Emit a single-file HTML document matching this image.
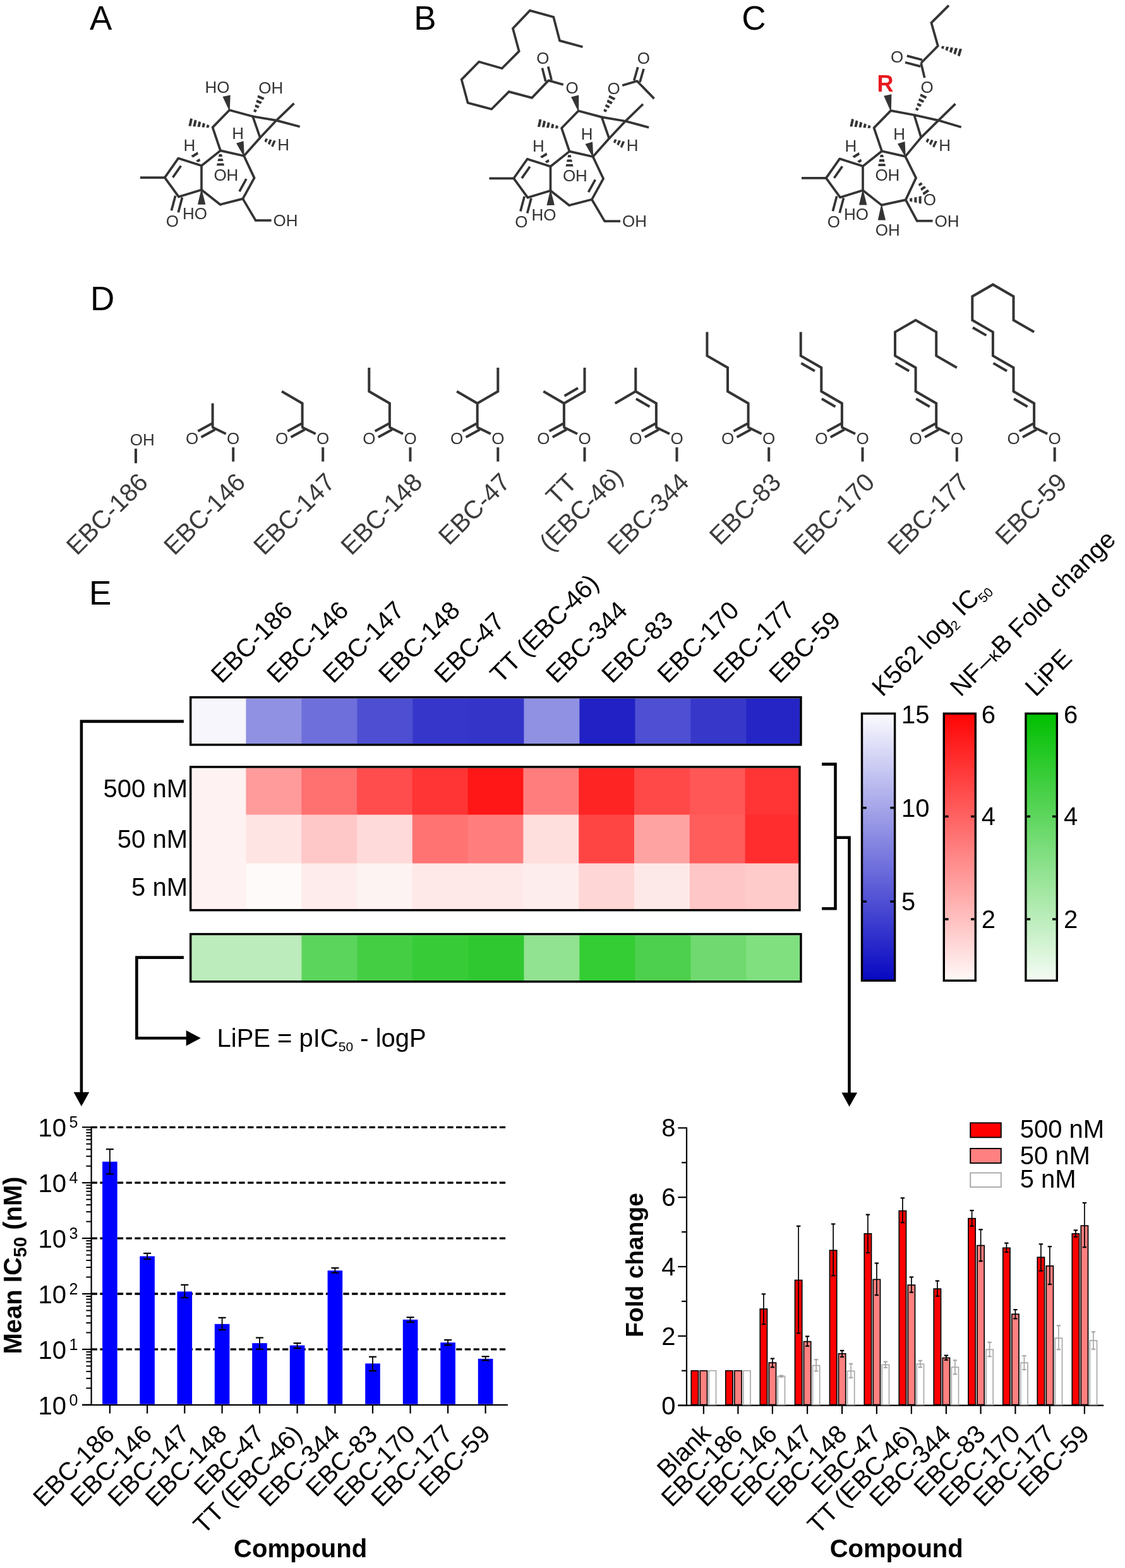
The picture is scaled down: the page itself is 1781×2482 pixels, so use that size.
<!DOCTYPE html>
<html><head><meta charset="utf-8"><title>Figure</title>
<style>html,body{margin:0;padding:0;background:#fff;}svg{display:block;}</style>
</head><body>
<svg width="1781" height="2482" viewBox="0 0 1781 2482" font-family="'Liberation Sans', Arial, sans-serif">
<rect x="0" y="0" width="1781" height="2482" fill="#fff"/>
<text x="142" y="46.8" font-size="53" fill="#000">A</text>
<text x="655.2" y="46.8" font-size="53" fill="#000">B</text>
<text x="1174.3" y="46.8" font-size="53" fill="#000">C</text>
<text x="143" y="490.9" font-size="53" fill="#000">D</text>
<text x="141" y="956.6" font-size="53" fill="#000">E</text>
<rect x="303" y="1105.6" width="87" height="71.5" fill="#f6f6fc"/>
<rect x="303" y="1480.4" width="87" height="71.6" fill="#bcebbc"/>
<rect x="389.4" y="1105.6" width="88.6" height="71.5" fill="#9091e3"/>
<rect x="389.4" y="1480.4" width="88.6" height="71.6" fill="#bcebbc"/>
<rect x="477.4" y="1105.6" width="88.6" height="71.5" fill="#6e6fda"/>
<rect x="477.4" y="1480.4" width="88.6" height="71.6" fill="#5cd55c"/>
<rect x="565.4" y="1105.6" width="88.6" height="71.5" fill="#4d4ed2"/>
<rect x="565.4" y="1480.4" width="88.6" height="71.6" fill="#44ce44"/>
<rect x="653.4" y="1105.6" width="88.6" height="71.5" fill="#3636ca"/>
<rect x="653.4" y="1480.4" width="88.6" height="71.6" fill="#38cb38"/>
<rect x="741.4" y="1105.6" width="88.6" height="71.5" fill="#3434c9"/>
<rect x="741.4" y="1480.4" width="88.6" height="71.6" fill="#30c830"/>
<rect x="829.4" y="1105.6" width="88.6" height="71.5" fill="#9091e3"/>
<rect x="829.4" y="1480.4" width="88.6" height="71.6" fill="#91e291"/>
<rect x="917.4" y="1105.6" width="88.6" height="71.5" fill="#2121c5"/>
<rect x="917.4" y="1480.4" width="88.6" height="71.6" fill="#34cd34"/>
<rect x="1005.4" y="1105.6" width="88.6" height="71.5" fill="#4e4fd2"/>
<rect x="1005.4" y="1480.4" width="88.6" height="71.6" fill="#4dd04d"/>
<rect x="1093.4" y="1105.6" width="88.6" height="71.5" fill="#3737c9"/>
<rect x="1093.4" y="1480.4" width="88.6" height="71.6" fill="#70da70"/>
<rect x="1181.4" y="1105.6" width="85.2" height="71.5" fill="#2525c6"/>
<rect x="1181.4" y="1480.4" width="85.2" height="71.6" fill="#80e080"/>
<rect x="303" y="1216" width="87" height="74.2" fill="#fef2f2"/>
<rect x="389.4" y="1216" width="88.4" height="74.2" fill="#ff9b9b"/>
<rect x="477.2" y="1216" width="88.4" height="74.2" fill="#ff7070"/>
<rect x="565" y="1216" width="88.4" height="74.2" fill="#ff4c4c"/>
<rect x="652.8" y="1216" width="88.4" height="74.2" fill="#ff3434"/>
<rect x="740.6" y="1216" width="88.4" height="74.2" fill="#ff1616"/>
<rect x="828.4" y="1216" width="88.4" height="74.2" fill="#ff7d7d"/>
<rect x="916.2" y="1216" width="88.4" height="74.2" fill="#ff2424"/>
<rect x="1004" y="1216" width="88.4" height="74.2" fill="#ff4848"/>
<rect x="1091.8" y="1216" width="88.4" height="74.2" fill="#ff5656"/>
<rect x="1179.6" y="1216" width="85" height="74.2" fill="#ff3434"/>
<rect x="303" y="1289.6" width="87" height="77.6" fill="#fef2f2"/>
<rect x="389.4" y="1289.6" width="88.4" height="77.6" fill="#ffe4e4"/>
<rect x="477.2" y="1289.6" width="88.4" height="77.6" fill="#ffc8c8"/>
<rect x="565" y="1289.6" width="88.4" height="77.6" fill="#ffdada"/>
<rect x="652.8" y="1289.6" width="88.4" height="77.6" fill="#ff7373"/>
<rect x="740.6" y="1289.6" width="88.4" height="77.6" fill="#ff7d7d"/>
<rect x="828.4" y="1289.6" width="88.4" height="77.6" fill="#ffdede"/>
<rect x="916.2" y="1289.6" width="88.4" height="77.6" fill="#ff4444"/>
<rect x="1004" y="1289.6" width="88.4" height="77.6" fill="#ffa2a2"/>
<rect x="1091.8" y="1289.6" width="88.4" height="77.6" fill="#ff5c5c"/>
<rect x="1179.6" y="1289.6" width="85" height="77.6" fill="#ff2d2d"/>
<rect x="303" y="1366.6" width="87" height="72.8" fill="#fef2f2"/>
<rect x="389.4" y="1366.6" width="88.4" height="72.8" fill="#fefafa"/>
<rect x="477.2" y="1366.6" width="88.4" height="72.8" fill="#feecec"/>
<rect x="565" y="1366.6" width="88.4" height="72.8" fill="#fef3f3"/>
<rect x="652.8" y="1366.6" width="88.4" height="72.8" fill="#fee8e8"/>
<rect x="740.6" y="1366.6" width="88.4" height="72.8" fill="#fee8e8"/>
<rect x="828.4" y="1366.6" width="88.4" height="72.8" fill="#feeded"/>
<rect x="916.2" y="1366.6" width="88.4" height="72.8" fill="#fed6d6"/>
<rect x="1004" y="1366.6" width="88.4" height="72.8" fill="#fee9e9"/>
<rect x="1091.8" y="1366.6" width="88.4" height="72.8" fill="#fec6c6"/>
<rect x="1179.6" y="1366.6" width="85" height="72.8" fill="#fecaca"/>
<rect x="301.7" y="1103.8" width="966.2" height="75.1" fill="none" stroke="#000" stroke-width="3.5"/>
<rect x="301.7" y="1214" width="964.2" height="226.7" fill="none" stroke="#000" stroke-width="3.5"/>
<rect x="301.7" y="1478.6" width="966.2" height="75.2" fill="none" stroke="#000" stroke-width="3.5"/>
<text x="0" y="0" font-size="40" fill="#000" transform="translate(350.8,1083.2) rotate(-45)">EBC-186</text>
<text x="0" y="0" font-size="40" fill="#000" transform="translate(439.12,1083.2) rotate(-45)">EBC-146</text>
<text x="0" y="0" font-size="40" fill="#000" transform="translate(527.44,1083.2) rotate(-45)">EBC-147</text>
<text x="0" y="0" font-size="40" fill="#000" transform="translate(615.76,1083.2) rotate(-45)">EBC-148</text>
<text x="0" y="0" font-size="40" fill="#000" transform="translate(704.08,1083.2) rotate(-45)">EBC-<tspan dx="-3">4</tspan>7</text>
<text x="0" y="0" font-size="40" fill="#000" transform="translate(792.4,1083.2) rotate(-45)">TT (EBC-<tspan dx="-3">4</tspan>6)</text>
<text x="0" y="0" font-size="40" fill="#000" transform="translate(880.72,1083.2) rotate(-45)">EBC-344</text>
<text x="0" y="0" font-size="40" fill="#000" transform="translate(969.04,1083.2) rotate(-45)">EBC-83</text>
<text x="0" y="0" font-size="40" fill="#000" transform="translate(1057.36,1083.2) rotate(-45)">EBC-170</text>
<text x="0" y="0" font-size="40" fill="#000" transform="translate(1145.68,1083.2) rotate(-45)">EBC-177</text>
<text x="0" y="0" font-size="40" fill="#000" transform="translate(1234,1083.2) rotate(-45)">EBC-59</text>
<text x="297" y="1262.2" font-size="40" text-anchor="end" fill="#000">500 nM</text>
<text x="297" y="1341.5" font-size="40" text-anchor="end" fill="#000">50 nM</text>
<text x="297" y="1417.9" font-size="40" text-anchor="end" fill="#000">5 nM</text>
<defs><linearGradient id="gb" x1="0" y1="0" x2="0" y2="1"><stop offset="0" stop-color="#fbfbff"/><stop offset="1" stop-color="#0707c2"/></linearGradient><linearGradient id="gr" x1="0" y1="0" x2="0" y2="1"><stop offset="0" stop-color="#ff0404"/><stop offset="1" stop-color="#fff8f8"/></linearGradient><linearGradient id="gg" x1="0" y1="0" x2="0" y2="1"><stop offset="0" stop-color="#00bf00"/><stop offset="1" stop-color="#f4fbf4"/></linearGradient></defs>
<rect x="1364.5" y="1129.5" width="52.1" height="422.7" fill="url(#gb)" stroke="#000" stroke-width="3.4"/>
<rect x="1494.3" y="1129.5" width="50" height="422.7" fill="url(#gr)" stroke="#000" stroke-width="3.4"/>
<rect x="1623.9" y="1129.5" width="49.4" height="422.7" fill="url(#gg)" stroke="#000" stroke-width="3.4"/>
<line x1="1366.2" y1="1278.7" x2="1371.8" y2="1278.7" stroke="#000" stroke-width="3.5" stroke-linecap="butt"/>
<line x1="1414.9" y1="1278.7" x2="1409.3" y2="1278.7" stroke="#000" stroke-width="3.5" stroke-linecap="butt"/>
<line x1="1366.2" y1="1427" x2="1371.8" y2="1427" stroke="#000" stroke-width="3.5" stroke-linecap="butt"/>
<line x1="1414.9" y1="1427" x2="1409.3" y2="1427" stroke="#000" stroke-width="3.5" stroke-linecap="butt"/>
<line x1="1496" y1="1292.4" x2="1501.6" y2="1292.4" stroke="#000" stroke-width="3.5" stroke-linecap="butt"/>
<line x1="1542.6" y1="1292.4" x2="1537" y2="1292.4" stroke="#000" stroke-width="3.5" stroke-linecap="butt"/>
<line x1="1496" y1="1455" x2="1501.6" y2="1455" stroke="#000" stroke-width="3.5" stroke-linecap="butt"/>
<line x1="1542.6" y1="1455" x2="1537" y2="1455" stroke="#000" stroke-width="3.5" stroke-linecap="butt"/>
<line x1="1625.6" y1="1292.4" x2="1631.2" y2="1292.4" stroke="#000" stroke-width="3.5" stroke-linecap="butt"/>
<line x1="1671.6" y1="1292.4" x2="1666" y2="1292.4" stroke="#000" stroke-width="3.5" stroke-linecap="butt"/>
<line x1="1625.6" y1="1455" x2="1631.2" y2="1455" stroke="#000" stroke-width="3.5" stroke-linecap="butt"/>
<line x1="1671.6" y1="1455" x2="1666" y2="1455" stroke="#000" stroke-width="3.5" stroke-linecap="butt"/>
<text x="1427" y="1144.9" font-size="40" fill="#000">15</text>
<text x="1427" y="1292.7" font-size="40" fill="#000">10</text>
<text x="1427" y="1441" font-size="40" fill="#000">5</text>
<text x="1553.7" y="1144.9" font-size="40" fill="#000">6</text>
<text x="1553.7" y="1306.4" font-size="40" fill="#000">4</text>
<text x="1553.7" y="1469" font-size="40" fill="#000">2</text>
<text x="1684" y="1144.9" font-size="40" fill="#000">6</text>
<text x="1684" y="1306.4" font-size="40" fill="#000">4</text>
<text x="1684" y="1469" font-size="40" fill="#000">2</text>
<text font-size="40" transform="translate(1397,1104.2) rotate(-45)">K562 log<tspan font-size="21" dx="-1" dy="8">2</tspan><tspan dy="-8"> IC</tspan><tspan font-size="21" dx="-1" dy="8">50</tspan></text>
<text font-size="40" transform="translate(1520.7,1104.2) rotate(-45)">NF<tspan dx="2">–</tspan><tspan font-size="30">κ</tspan>B Fold change</text>
<text font-size="40" transform="translate(1639.5,1104.2) rotate(-45)">LiPE</text>
<path d="M290.9,1141.9 H128.9 V1729" stroke="#000" stroke-width="4.6" fill="none"/>
<polygon points="116.6,1728.7 141.3,1728.7 128.9,1751.2" fill="#000"/>
<path d="M290.9,1515.6 H216.4 V1643.2 H296" stroke="#000" stroke-width="4.6" fill="none"/>
<polygon points="294.7,1631 294.7,1655.4 317.8,1643.2" fill="#000"/>
<path d="M1301.1,1209.6 H1322.5 V1438.2 H1301.1" stroke="#000" stroke-width="4.6" fill="none"/>
<path d="M1322.5,1325.7 H1344.5 V1730" stroke="#000" stroke-width="4.6" fill="none"/>
<polygon points="1332.4,1729.4 1357.1,1729.4 1344.6,1751.7" fill="#000"/>
<text x="343.5" y="1656.8" font-size="40">LiPE = pIC<tspan font-size="21" dy="7">50</tspan><tspan dy="-7"> - logP</tspan></text>
<line x1="144.6" y1="1783" x2="144.6" y2="2224.9" stroke="#000" stroke-width="2.2" stroke-linecap="butt"/>
<line x1="130" y1="2223.8" x2="803.9" y2="2223.8" stroke="#000" stroke-width="2.2" stroke-linecap="butt"/>
<line x1="130" y1="2223.8" x2="144.6" y2="2223.8" stroke="#000" stroke-width="2.2" stroke-linecap="butt"/>
<text x="105" y="2238.8" font-size="40" text-anchor="end" fill="#000">10</text>
<text x="109.6" y="2224.8" font-size="25" fill="#000">0</text>
<line x1="136.4" y1="2197.34" x2="144.6" y2="2197.34" stroke="#000" stroke-width="2" stroke-linecap="butt"/>
<line x1="136.4" y1="2181.86" x2="144.6" y2="2181.86" stroke="#000" stroke-width="2" stroke-linecap="butt"/>
<line x1="136.4" y1="2170.88" x2="144.6" y2="2170.88" stroke="#000" stroke-width="2" stroke-linecap="butt"/>
<line x1="136.4" y1="2162.36" x2="144.6" y2="2162.36" stroke="#000" stroke-width="2" stroke-linecap="butt"/>
<line x1="136.4" y1="2155.4" x2="144.6" y2="2155.4" stroke="#000" stroke-width="2" stroke-linecap="butt"/>
<line x1="136.4" y1="2149.52" x2="144.6" y2="2149.52" stroke="#000" stroke-width="2" stroke-linecap="butt"/>
<line x1="136.4" y1="2144.42" x2="144.6" y2="2144.42" stroke="#000" stroke-width="2" stroke-linecap="butt"/>
<line x1="136.4" y1="2139.92" x2="144.6" y2="2139.92" stroke="#000" stroke-width="2" stroke-linecap="butt"/>
<line x1="130" y1="2135.9" x2="144.6" y2="2135.9" stroke="#000" stroke-width="2.2" stroke-linecap="butt"/>
<text x="105" y="2150.9" font-size="40" text-anchor="end" fill="#000">10</text>
<text x="109.6" y="2136.9" font-size="25" fill="#000">1</text>
<line x1="136.4" y1="2109.44" x2="144.6" y2="2109.44" stroke="#000" stroke-width="2" stroke-linecap="butt"/>
<line x1="136.4" y1="2093.96" x2="144.6" y2="2093.96" stroke="#000" stroke-width="2" stroke-linecap="butt"/>
<line x1="136.4" y1="2082.98" x2="144.6" y2="2082.98" stroke="#000" stroke-width="2" stroke-linecap="butt"/>
<line x1="136.4" y1="2074.46" x2="144.6" y2="2074.46" stroke="#000" stroke-width="2" stroke-linecap="butt"/>
<line x1="136.4" y1="2067.5" x2="144.6" y2="2067.5" stroke="#000" stroke-width="2" stroke-linecap="butt"/>
<line x1="136.4" y1="2061.62" x2="144.6" y2="2061.62" stroke="#000" stroke-width="2" stroke-linecap="butt"/>
<line x1="136.4" y1="2056.52" x2="144.6" y2="2056.52" stroke="#000" stroke-width="2" stroke-linecap="butt"/>
<line x1="136.4" y1="2052.02" x2="144.6" y2="2052.02" stroke="#000" stroke-width="2" stroke-linecap="butt"/>
<line x1="130" y1="2048" x2="144.6" y2="2048" stroke="#000" stroke-width="2.2" stroke-linecap="butt"/>
<text x="105" y="2063" font-size="40" text-anchor="end" fill="#000">10</text>
<text x="109.6" y="2049" font-size="25" fill="#000">2</text>
<line x1="136.4" y1="2021.54" x2="144.6" y2="2021.54" stroke="#000" stroke-width="2" stroke-linecap="butt"/>
<line x1="136.4" y1="2006.06" x2="144.6" y2="2006.06" stroke="#000" stroke-width="2" stroke-linecap="butt"/>
<line x1="136.4" y1="1995.08" x2="144.6" y2="1995.08" stroke="#000" stroke-width="2" stroke-linecap="butt"/>
<line x1="136.4" y1="1986.56" x2="144.6" y2="1986.56" stroke="#000" stroke-width="2" stroke-linecap="butt"/>
<line x1="136.4" y1="1979.6" x2="144.6" y2="1979.6" stroke="#000" stroke-width="2" stroke-linecap="butt"/>
<line x1="136.4" y1="1973.72" x2="144.6" y2="1973.72" stroke="#000" stroke-width="2" stroke-linecap="butt"/>
<line x1="136.4" y1="1968.62" x2="144.6" y2="1968.62" stroke="#000" stroke-width="2" stroke-linecap="butt"/>
<line x1="136.4" y1="1964.12" x2="144.6" y2="1964.12" stroke="#000" stroke-width="2" stroke-linecap="butt"/>
<line x1="130" y1="1960.1" x2="144.6" y2="1960.1" stroke="#000" stroke-width="2.2" stroke-linecap="butt"/>
<text x="105" y="1975.1" font-size="40" text-anchor="end" fill="#000">10</text>
<text x="109.6" y="1961.1" font-size="25" fill="#000">3</text>
<line x1="136.4" y1="1933.64" x2="144.6" y2="1933.64" stroke="#000" stroke-width="2" stroke-linecap="butt"/>
<line x1="136.4" y1="1918.16" x2="144.6" y2="1918.16" stroke="#000" stroke-width="2" stroke-linecap="butt"/>
<line x1="136.4" y1="1907.18" x2="144.6" y2="1907.18" stroke="#000" stroke-width="2" stroke-linecap="butt"/>
<line x1="136.4" y1="1898.66" x2="144.6" y2="1898.66" stroke="#000" stroke-width="2" stroke-linecap="butt"/>
<line x1="136.4" y1="1891.7" x2="144.6" y2="1891.7" stroke="#000" stroke-width="2" stroke-linecap="butt"/>
<line x1="136.4" y1="1885.82" x2="144.6" y2="1885.82" stroke="#000" stroke-width="2" stroke-linecap="butt"/>
<line x1="136.4" y1="1880.72" x2="144.6" y2="1880.72" stroke="#000" stroke-width="2" stroke-linecap="butt"/>
<line x1="136.4" y1="1876.22" x2="144.6" y2="1876.22" stroke="#000" stroke-width="2" stroke-linecap="butt"/>
<line x1="130" y1="1872.2" x2="144.6" y2="1872.2" stroke="#000" stroke-width="2.2" stroke-linecap="butt"/>
<text x="105" y="1887.2" font-size="40" text-anchor="end" fill="#000">10</text>
<text x="109.6" y="1873.2" font-size="25" fill="#000">4</text>
<line x1="136.4" y1="1845.74" x2="144.6" y2="1845.74" stroke="#000" stroke-width="2" stroke-linecap="butt"/>
<line x1="136.4" y1="1830.26" x2="144.6" y2="1830.26" stroke="#000" stroke-width="2" stroke-linecap="butt"/>
<line x1="136.4" y1="1819.28" x2="144.6" y2="1819.28" stroke="#000" stroke-width="2" stroke-linecap="butt"/>
<line x1="136.4" y1="1810.76" x2="144.6" y2="1810.76" stroke="#000" stroke-width="2" stroke-linecap="butt"/>
<line x1="136.4" y1="1803.8" x2="144.6" y2="1803.8" stroke="#000" stroke-width="2" stroke-linecap="butt"/>
<line x1="136.4" y1="1797.92" x2="144.6" y2="1797.92" stroke="#000" stroke-width="2" stroke-linecap="butt"/>
<line x1="136.4" y1="1792.82" x2="144.6" y2="1792.82" stroke="#000" stroke-width="2" stroke-linecap="butt"/>
<line x1="136.4" y1="1788.32" x2="144.6" y2="1788.32" stroke="#000" stroke-width="2" stroke-linecap="butt"/>
<line x1="130" y1="1784.3" x2="144.6" y2="1784.3" stroke="#000" stroke-width="2.2" stroke-linecap="butt"/>
<text x="105" y="1799.3" font-size="40" text-anchor="end" fill="#000">10</text>
<text x="109.6" y="1785.3" font-size="25" fill="#000">5</text>
<line x1="144.6" y1="2135.9" x2="801.4" y2="2135.9" stroke="#000" stroke-width="3.3" stroke-linecap="butt" stroke-dasharray="9.3 4.45"/>
<line x1="144.6" y1="2048" x2="801.4" y2="2048" stroke="#000" stroke-width="3.3" stroke-linecap="butt" stroke-dasharray="9.3 4.45"/>
<line x1="144.6" y1="1960.1" x2="801.4" y2="1960.1" stroke="#000" stroke-width="3.3" stroke-linecap="butt" stroke-dasharray="9.3 4.45"/>
<line x1="144.6" y1="1872.2" x2="801.4" y2="1872.2" stroke="#000" stroke-width="3.3" stroke-linecap="butt" stroke-dasharray="9.3 4.45"/>
<line x1="144.6" y1="1784.3" x2="801.4" y2="1784.3" stroke="#000" stroke-width="3.3" stroke-linecap="butt" stroke-dasharray="9.3 4.45"/>
<rect x="162.1" y="1838.8" width="23.6" height="383.9" fill="#0000ff"/>
<line x1="173.9" y1="1819.1" x2="173.9" y2="1858.4" stroke="#000" stroke-width="1.8" stroke-linecap="butt"/>
<line x1="167.9" y1="1819.1" x2="179.9" y2="1819.1" stroke="#000" stroke-width="2.2" stroke-linecap="butt"/>
<line x1="167.9" y1="1858.4" x2="179.9" y2="1858.4" stroke="#000" stroke-width="2.2" stroke-linecap="butt"/>
<line x1="173.9" y1="2223.8" x2="173.9" y2="2237.4" stroke="#000" stroke-width="2.2" stroke-linecap="butt"/>
<text x="0" y="0" font-size="40" text-anchor="end" fill="#000" transform="translate(183.7,2272.3) rotate(-45)">EBC-186</text>
<rect x="221.3" y="1988.5" width="23.6" height="234.2" fill="#0000ff"/>
<line x1="233.1" y1="1983.9" x2="233.1" y2="1993" stroke="#000" stroke-width="1.8" stroke-linecap="butt"/>
<line x1="227.1" y1="1983.9" x2="239.1" y2="1983.9" stroke="#000" stroke-width="2.2" stroke-linecap="butt"/>
<line x1="227.1" y1="1993" x2="239.1" y2="1993" stroke="#000" stroke-width="2.2" stroke-linecap="butt"/>
<line x1="233.1" y1="2223.8" x2="233.1" y2="2237.4" stroke="#000" stroke-width="2.2" stroke-linecap="butt"/>
<text x="0" y="0" font-size="40" text-anchor="end" fill="#000" transform="translate(242.9,2272.3) rotate(-45)">EBC-146</text>
<rect x="280.5" y="2044.4" width="23.6" height="178.3" fill="#0000ff"/>
<line x1="292.3" y1="2033.8" x2="292.3" y2="2054" stroke="#000" stroke-width="1.8" stroke-linecap="butt"/>
<line x1="286.3" y1="2033.8" x2="298.3" y2="2033.8" stroke="#000" stroke-width="2.2" stroke-linecap="butt"/>
<line x1="286.3" y1="2054" x2="298.3" y2="2054" stroke="#000" stroke-width="2.2" stroke-linecap="butt"/>
<line x1="292.3" y1="2223.8" x2="292.3" y2="2237.4" stroke="#000" stroke-width="2.2" stroke-linecap="butt"/>
<text x="0" y="0" font-size="40" text-anchor="end" fill="#000" transform="translate(302.1,2272.3) rotate(-45)">EBC-147</text>
<rect x="339.8" y="2095.8" width="23.6" height="126.9" fill="#0000ff"/>
<line x1="351.6" y1="2085.8" x2="351.6" y2="2104.9" stroke="#000" stroke-width="1.8" stroke-linecap="butt"/>
<line x1="345.6" y1="2085.8" x2="357.6" y2="2085.8" stroke="#000" stroke-width="2.2" stroke-linecap="butt"/>
<line x1="345.6" y1="2104.9" x2="357.6" y2="2104.9" stroke="#000" stroke-width="2.2" stroke-linecap="butt"/>
<line x1="351.6" y1="2223.8" x2="351.6" y2="2237.4" stroke="#000" stroke-width="2.2" stroke-linecap="butt"/>
<text x="0" y="0" font-size="40" text-anchor="end" fill="#000" transform="translate(361.4,2272.3) rotate(-45)">EBC-148</text>
<rect x="399.2" y="2126.1" width="23.6" height="96.6" fill="#0000ff"/>
<line x1="411" y1="2117.5" x2="411" y2="2135.6" stroke="#000" stroke-width="1.8" stroke-linecap="butt"/>
<line x1="405" y1="2117.5" x2="417" y2="2117.5" stroke="#000" stroke-width="2.2" stroke-linecap="butt"/>
<line x1="405" y1="2135.6" x2="417" y2="2135.6" stroke="#000" stroke-width="2.2" stroke-linecap="butt"/>
<line x1="411" y1="2223.8" x2="411" y2="2237.4" stroke="#000" stroke-width="2.2" stroke-linecap="butt"/>
<text x="0" y="0" font-size="40" text-anchor="end" fill="#000" transform="translate(420.8,2272.3) rotate(-45)">EBC-<tspan dx="-3">4</tspan>7</text>
<rect x="458.8" y="2129.6" width="23.6" height="93.1" fill="#0000ff"/>
<line x1="470.6" y1="2126.1" x2="470.6" y2="2134.1" stroke="#000" stroke-width="1.8" stroke-linecap="butt"/>
<line x1="464.6" y1="2126.1" x2="476.6" y2="2126.1" stroke="#000" stroke-width="2.2" stroke-linecap="butt"/>
<line x1="464.6" y1="2134.1" x2="476.6" y2="2134.1" stroke="#000" stroke-width="2.2" stroke-linecap="butt"/>
<line x1="470.6" y1="2223.8" x2="470.6" y2="2237.4" stroke="#000" stroke-width="2.2" stroke-linecap="butt"/>
<text x="0" y="0" font-size="40" text-anchor="end" fill="#000" transform="translate(480.4,2272.3) rotate(-45)">TT (EBC-<tspan dx="-3">4</tspan>6)</text>
<rect x="518.6" y="2011.2" width="23.6" height="211.5" fill="#0000ff"/>
<line x1="530.4" y1="2007.1" x2="530.4" y2="2014.7" stroke="#000" stroke-width="1.8" stroke-linecap="butt"/>
<line x1="524.4" y1="2007.1" x2="536.4" y2="2007.1" stroke="#000" stroke-width="2.2" stroke-linecap="butt"/>
<line x1="524.4" y1="2014.7" x2="536.4" y2="2014.7" stroke="#000" stroke-width="2.2" stroke-linecap="butt"/>
<line x1="530.4" y1="2223.8" x2="530.4" y2="2237.4" stroke="#000" stroke-width="2.2" stroke-linecap="butt"/>
<text x="0" y="0" font-size="40" text-anchor="end" fill="#000" transform="translate(540.2,2272.3) rotate(-45)">EBC-344</text>
<rect x="578.2" y="2158.3" width="23.6" height="64.4" fill="#0000ff"/>
<line x1="590" y1="2147.7" x2="590" y2="2169.9" stroke="#000" stroke-width="1.8" stroke-linecap="butt"/>
<line x1="584" y1="2147.7" x2="596" y2="2147.7" stroke="#000" stroke-width="2.2" stroke-linecap="butt"/>
<line x1="584" y1="2169.9" x2="596" y2="2169.9" stroke="#000" stroke-width="2.2" stroke-linecap="butt"/>
<line x1="590" y1="2223.8" x2="590" y2="2237.4" stroke="#000" stroke-width="2.2" stroke-linecap="butt"/>
<text x="0" y="0" font-size="40" text-anchor="end" fill="#000" transform="translate(599.8,2272.3) rotate(-45)">EBC-83</text>
<rect x="637.8" y="2088.8" width="23.6" height="133.9" fill="#0000ff"/>
<line x1="649.6" y1="2085.2" x2="649.6" y2="2092.8" stroke="#000" stroke-width="1.8" stroke-linecap="butt"/>
<line x1="643.6" y1="2085.2" x2="655.6" y2="2085.2" stroke="#000" stroke-width="2.2" stroke-linecap="butt"/>
<line x1="643.6" y1="2092.8" x2="655.6" y2="2092.8" stroke="#000" stroke-width="2.2" stroke-linecap="butt"/>
<line x1="649.6" y1="2223.8" x2="649.6" y2="2237.4" stroke="#000" stroke-width="2.2" stroke-linecap="butt"/>
<text x="0" y="0" font-size="40" text-anchor="end" fill="#000" transform="translate(659.4,2272.3) rotate(-45)">EBC-170</text>
<rect x="697.3" y="2125.1" width="23.6" height="97.6" fill="#0000ff"/>
<line x1="709.1" y1="2121" x2="709.1" y2="2129.1" stroke="#000" stroke-width="1.8" stroke-linecap="butt"/>
<line x1="703.1" y1="2121" x2="715.1" y2="2121" stroke="#000" stroke-width="2.2" stroke-linecap="butt"/>
<line x1="703.1" y1="2129.1" x2="715.1" y2="2129.1" stroke="#000" stroke-width="2.2" stroke-linecap="butt"/>
<line x1="709.1" y1="2223.8" x2="709.1" y2="2237.4" stroke="#000" stroke-width="2.2" stroke-linecap="butt"/>
<text x="0" y="0" font-size="40" text-anchor="end" fill="#000" transform="translate(718.9,2272.3) rotate(-45)">EBC-177</text>
<rect x="756.8" y="2150.8" width="23.6" height="71.9" fill="#0000ff"/>
<line x1="768.6" y1="2147.2" x2="768.6" y2="2153.3" stroke="#000" stroke-width="1.8" stroke-linecap="butt"/>
<line x1="762.6" y1="2147.2" x2="774.6" y2="2147.2" stroke="#000" stroke-width="2.2" stroke-linecap="butt"/>
<line x1="762.6" y1="2153.3" x2="774.6" y2="2153.3" stroke="#000" stroke-width="2.2" stroke-linecap="butt"/>
<line x1="768.6" y1="2223.8" x2="768.6" y2="2237.4" stroke="#000" stroke-width="2.2" stroke-linecap="butt"/>
<text x="0" y="0" font-size="40" text-anchor="end" fill="#000" transform="translate(778.4,2272.3) rotate(-45)">EBC-59</text>
<text font-size="40" font-weight="bold" text-anchor="middle" transform="translate(34.0,2003) rotate(-90)">Mean IC<tspan font-size="29" dy="8">50</tspan><tspan dy="-8"> (nM)</tspan></text>
<text x="475.6" y="2464.8" font-size="40" text-anchor="middle" font-weight="bold" fill="#000">Compound</text>
<line x1="1087" y1="1784.5" x2="1087" y2="2225.7" stroke="#000" stroke-width="2.2" stroke-linecap="butt"/>
<line x1="1073.5" y1="2224.6" x2="1747.2" y2="2224.6" stroke="#000" stroke-width="2.2" stroke-linecap="butt"/>
<line x1="1073.3" y1="2224.6" x2="1087" y2="2224.6" stroke="#000" stroke-width="2.2" stroke-linecap="butt"/>
<text x="1069.5" y="2238.6" font-size="40" text-anchor="end" fill="#000">0</text>
<line x1="1079.1" y1="2169.7" x2="1087" y2="2169.7" stroke="#000" stroke-width="2.2" stroke-linecap="butt"/>
<line x1="1073.3" y1="2114.8" x2="1087" y2="2114.8" stroke="#000" stroke-width="2.2" stroke-linecap="butt"/>
<text x="1069.5" y="2128.8" font-size="40" text-anchor="end" fill="#000">2</text>
<line x1="1079.1" y1="2059.9" x2="1087" y2="2059.9" stroke="#000" stroke-width="2.2" stroke-linecap="butt"/>
<line x1="1073.3" y1="2005" x2="1087" y2="2005" stroke="#000" stroke-width="2.2" stroke-linecap="butt"/>
<text x="1069.5" y="2019" font-size="40" text-anchor="end" fill="#000">4</text>
<line x1="1079.1" y1="1950.1" x2="1087" y2="1950.1" stroke="#000" stroke-width="2.2" stroke-linecap="butt"/>
<line x1="1073.3" y1="1895.2" x2="1087" y2="1895.2" stroke="#000" stroke-width="2.2" stroke-linecap="butt"/>
<text x="1069.5" y="1909.2" font-size="40" text-anchor="end" fill="#000">6</text>
<line x1="1079.1" y1="1840.3" x2="1087" y2="1840.3" stroke="#000" stroke-width="2.2" stroke-linecap="butt"/>
<line x1="1073.3" y1="1785.4" x2="1087" y2="1785.4" stroke="#000" stroke-width="2.2" stroke-linecap="butt"/>
<text x="1069.5" y="1799.4" font-size="40" text-anchor="end" fill="#000">8</text>
<rect x="1094.3" y="2169.7" width="11.2" height="53.8" fill="#ff0000" stroke="#000" stroke-width="1.7"/>
<rect x="1108.3" y="2169.7" width="11.2" height="53.8" fill="#ff8080" stroke="#000" stroke-width="1.7"/>
<rect x="1122.3" y="2169.7" width="11.2" height="53.8" fill="#ffffff" stroke="#a8a8a8" stroke-width="1.7"/>
<line x1="1113.9" y1="2224.6" x2="1113.9" y2="2238.2" stroke="#000" stroke-width="2.2" stroke-linecap="butt"/>
<rect x="1148.8" y="2169.7" width="11.2" height="53.8" fill="#ff0000" stroke="#000" stroke-width="1.7"/>
<rect x="1162.8" y="2169.7" width="11.2" height="53.8" fill="#ff8080" stroke="#000" stroke-width="1.7"/>
<rect x="1176.8" y="2169.7" width="11.2" height="53.8" fill="#ffffff" stroke="#a8a8a8" stroke-width="1.7"/>
<line x1="1168.4" y1="2224.6" x2="1168.4" y2="2238.2" stroke="#000" stroke-width="2.2" stroke-linecap="butt"/>
<rect x="1203.3" y="2071.98" width="11.2" height="151.52" fill="#ff0000" stroke="#000" stroke-width="1.7"/>
<line x1="1208.9" y1="2048.37" x2="1208.9" y2="2096.13" stroke="#000" stroke-width="1.7" stroke-linecap="butt"/>
<line x1="1205.7" y1="2048.37" x2="1212.1" y2="2048.37" stroke="#000" stroke-width="2.2" stroke-linecap="butt"/>
<line x1="1205.7" y1="2096.13" x2="1212.1" y2="2096.13" stroke="#000" stroke-width="2.2" stroke-linecap="butt"/>
<rect x="1217.3" y="2157.07" width="11.2" height="66.43" fill="#ff8080" stroke="#000" stroke-width="1.7"/>
<line x1="1222.9" y1="2150.48" x2="1222.9" y2="2164.21" stroke="#000" stroke-width="1.7" stroke-linecap="butt"/>
<line x1="1219.7" y1="2150.48" x2="1226.1" y2="2150.48" stroke="#000" stroke-width="2.2" stroke-linecap="butt"/>
<line x1="1219.7" y1="2164.21" x2="1226.1" y2="2164.21" stroke="#000" stroke-width="2.2" stroke-linecap="butt"/>
<rect x="1231.3" y="2178.48" width="11.2" height="45.02" fill="#ffffff" stroke="#a8a8a8" stroke-width="1.7"/>
<line x1="1236.9" y1="2177.39" x2="1236.9" y2="2179.58" stroke="#a8a8a8" stroke-width="1.7" stroke-linecap="butt"/>
<line x1="1233.7" y1="2177.39" x2="1240.1" y2="2177.39" stroke="#a8a8a8" stroke-width="2.2" stroke-linecap="butt"/>
<line x1="1233.7" y1="2179.58" x2="1240.1" y2="2179.58" stroke="#a8a8a8" stroke-width="2.2" stroke-linecap="butt"/>
<line x1="1222.9" y1="2224.6" x2="1222.9" y2="2238.2" stroke="#000" stroke-width="2.2" stroke-linecap="butt"/>
<rect x="1258.5" y="2026.41" width="11.2" height="197.09" fill="#ff0000" stroke="#000" stroke-width="1.7"/>
<line x1="1264.1" y1="1940.77" x2="1264.1" y2="2110.41" stroke="#000" stroke-width="1.7" stroke-linecap="butt"/>
<line x1="1260.9" y1="1940.77" x2="1267.3" y2="1940.77" stroke="#000" stroke-width="2.2" stroke-linecap="butt"/>
<line x1="1260.9" y1="2110.41" x2="1267.3" y2="2110.41" stroke="#000" stroke-width="2.2" stroke-linecap="butt"/>
<rect x="1272.5" y="2123.58" width="11.2" height="99.92" fill="#ff8080" stroke="#000" stroke-width="1.7"/>
<line x1="1278.1" y1="2115.35" x2="1278.1" y2="2130.72" stroke="#000" stroke-width="1.7" stroke-linecap="butt"/>
<line x1="1274.9" y1="2115.35" x2="1281.3" y2="2115.35" stroke="#000" stroke-width="2.2" stroke-linecap="butt"/>
<line x1="1274.9" y1="2130.72" x2="1281.3" y2="2130.72" stroke="#000" stroke-width="2.2" stroke-linecap="butt"/>
<rect x="1286.5" y="2161.47" width="11.2" height="62.03" fill="#ffffff" stroke="#a8a8a8" stroke-width="1.7"/>
<line x1="1292.1" y1="2152.13" x2="1292.1" y2="2170.25" stroke="#a8a8a8" stroke-width="1.7" stroke-linecap="butt"/>
<line x1="1288.9" y1="2152.13" x2="1295.3" y2="2152.13" stroke="#a8a8a8" stroke-width="2.2" stroke-linecap="butt"/>
<line x1="1288.9" y1="2170.25" x2="1295.3" y2="2170.25" stroke="#a8a8a8" stroke-width="2.2" stroke-linecap="butt"/>
<line x1="1278.1" y1="2224.6" x2="1278.1" y2="2238.2" stroke="#000" stroke-width="2.2" stroke-linecap="butt"/>
<rect x="1313.5" y="1979.2" width="11.2" height="244.3" fill="#ff0000" stroke="#000" stroke-width="1.7"/>
<line x1="1319.1" y1="1937.47" x2="1319.1" y2="2019.27" stroke="#000" stroke-width="1.7" stroke-linecap="butt"/>
<line x1="1315.9" y1="1937.47" x2="1322.3" y2="1937.47" stroke="#000" stroke-width="2.2" stroke-linecap="butt"/>
<line x1="1315.9" y1="2019.27" x2="1322.3" y2="2019.27" stroke="#000" stroke-width="2.2" stroke-linecap="butt"/>
<rect x="1327.5" y="2142.8" width="11.2" height="80.7" fill="#ff8080" stroke="#000" stroke-width="1.7"/>
<line x1="1333.1" y1="2137.86" x2="1333.1" y2="2147.74" stroke="#000" stroke-width="1.7" stroke-linecap="butt"/>
<line x1="1329.9" y1="2137.86" x2="1336.3" y2="2137.86" stroke="#000" stroke-width="2.2" stroke-linecap="butt"/>
<line x1="1329.9" y1="2147.74" x2="1336.3" y2="2147.74" stroke="#000" stroke-width="2.2" stroke-linecap="butt"/>
<rect x="1341.5" y="2170.25" width="11.2" height="53.25" fill="#ffffff" stroke="#a8a8a8" stroke-width="1.7"/>
<line x1="1347.1" y1="2158.72" x2="1347.1" y2="2180.68" stroke="#a8a8a8" stroke-width="1.7" stroke-linecap="butt"/>
<line x1="1343.9" y1="2158.72" x2="1350.3" y2="2158.72" stroke="#a8a8a8" stroke-width="2.2" stroke-linecap="butt"/>
<line x1="1343.9" y1="2180.68" x2="1350.3" y2="2180.68" stroke="#a8a8a8" stroke-width="2.2" stroke-linecap="butt"/>
<line x1="1333.1" y1="2224.6" x2="1333.1" y2="2238.2" stroke="#000" stroke-width="2.2" stroke-linecap="butt"/>
<rect x="1368.3" y="1952.84" width="11.2" height="270.66" fill="#ff0000" stroke="#000" stroke-width="1.7"/>
<line x1="1373.9" y1="1922.65" x2="1373.9" y2="1983.04" stroke="#000" stroke-width="1.7" stroke-linecap="butt"/>
<line x1="1370.7" y1="1922.65" x2="1377.1" y2="1922.65" stroke="#000" stroke-width="2.2" stroke-linecap="butt"/>
<line x1="1370.7" y1="1983.04" x2="1377.1" y2="1983.04" stroke="#000" stroke-width="2.2" stroke-linecap="butt"/>
<rect x="1382.3" y="2025.31" width="11.2" height="198.19" fill="#ff8080" stroke="#000" stroke-width="1.7"/>
<line x1="1387.9" y1="1999.51" x2="1387.9" y2="2050.02" stroke="#000" stroke-width="1.7" stroke-linecap="butt"/>
<line x1="1384.7" y1="1999.51" x2="1391.1" y2="1999.51" stroke="#000" stroke-width="2.2" stroke-linecap="butt"/>
<line x1="1384.7" y1="2050.02" x2="1391.1" y2="2050.02" stroke="#000" stroke-width="2.2" stroke-linecap="butt"/>
<rect x="1396.3" y="2160.37" width="11.2" height="63.13" fill="#ffffff" stroke="#a8a8a8" stroke-width="1.7"/>
<line x1="1401.9" y1="2155.43" x2="1401.9" y2="2164.76" stroke="#a8a8a8" stroke-width="1.7" stroke-linecap="butt"/>
<line x1="1398.7" y1="2155.43" x2="1405.1" y2="2155.43" stroke="#a8a8a8" stroke-width="2.2" stroke-linecap="butt"/>
<line x1="1398.7" y1="2164.76" x2="1405.1" y2="2164.76" stroke="#a8a8a8" stroke-width="2.2" stroke-linecap="butt"/>
<line x1="1387.9" y1="2224.6" x2="1387.9" y2="2238.2" stroke="#000" stroke-width="2.2" stroke-linecap="butt"/>
<rect x="1423.3" y="1916.61" width="11.2" height="306.89" fill="#ff0000" stroke="#000" stroke-width="1.7"/>
<line x1="1428.9" y1="1896.3" x2="1428.9" y2="1935.28" stroke="#000" stroke-width="1.7" stroke-linecap="butt"/>
<line x1="1425.7" y1="1896.3" x2="1432.1" y2="1896.3" stroke="#000" stroke-width="2.2" stroke-linecap="butt"/>
<line x1="1425.7" y1="1935.28" x2="1432.1" y2="1935.28" stroke="#000" stroke-width="2.2" stroke-linecap="butt"/>
<rect x="1437.3" y="2034.1" width="11.2" height="189.4" fill="#ff8080" stroke="#000" stroke-width="1.7"/>
<line x1="1442.9" y1="2021.47" x2="1442.9" y2="2045.63" stroke="#000" stroke-width="1.7" stroke-linecap="butt"/>
<line x1="1439.7" y1="2021.47" x2="1446.1" y2="2021.47" stroke="#000" stroke-width="2.2" stroke-linecap="butt"/>
<line x1="1439.7" y1="2045.63" x2="1446.1" y2="2045.63" stroke="#000" stroke-width="2.2" stroke-linecap="butt"/>
<rect x="1451.3" y="2159.27" width="11.2" height="64.23" fill="#ffffff" stroke="#a8a8a8" stroke-width="1.7"/>
<line x1="1456.9" y1="2153.78" x2="1456.9" y2="2164.21" stroke="#a8a8a8" stroke-width="1.7" stroke-linecap="butt"/>
<line x1="1453.7" y1="2153.78" x2="1460.1" y2="2153.78" stroke="#a8a8a8" stroke-width="2.2" stroke-linecap="butt"/>
<line x1="1453.7" y1="2164.21" x2="1460.1" y2="2164.21" stroke="#a8a8a8" stroke-width="2.2" stroke-linecap="butt"/>
<line x1="1442.9" y1="2224.6" x2="1442.9" y2="2238.2" stroke="#000" stroke-width="2.2" stroke-linecap="butt"/>
<rect x="1478.3" y="2040.14" width="11.2" height="183.36" fill="#ff0000" stroke="#000" stroke-width="1.7"/>
<line x1="1483.9" y1="2027.51" x2="1483.9" y2="2051.66" stroke="#000" stroke-width="1.7" stroke-linecap="butt"/>
<line x1="1480.7" y1="2027.51" x2="1487.1" y2="2027.51" stroke="#000" stroke-width="2.2" stroke-linecap="butt"/>
<line x1="1480.7" y1="2051.66" x2="1487.1" y2="2051.66" stroke="#000" stroke-width="2.2" stroke-linecap="butt"/>
<rect x="1492.3" y="2149.39" width="11.2" height="74.11" fill="#ff8080" stroke="#000" stroke-width="1.7"/>
<line x1="1497.9" y1="2145.54" x2="1497.9" y2="2152.68" stroke="#000" stroke-width="1.7" stroke-linecap="butt"/>
<line x1="1494.7" y1="2145.54" x2="1501.1" y2="2145.54" stroke="#000" stroke-width="2.2" stroke-linecap="butt"/>
<line x1="1494.7" y1="2152.68" x2="1501.1" y2="2152.68" stroke="#000" stroke-width="2.2" stroke-linecap="butt"/>
<rect x="1506.3" y="2164.21" width="11.2" height="59.29" fill="#ffffff" stroke="#a8a8a8" stroke-width="1.7"/>
<line x1="1511.9" y1="2153.23" x2="1511.9" y2="2175.19" stroke="#a8a8a8" stroke-width="1.7" stroke-linecap="butt"/>
<line x1="1508.7" y1="2153.23" x2="1515.1" y2="2153.23" stroke="#a8a8a8" stroke-width="2.2" stroke-linecap="butt"/>
<line x1="1508.7" y1="2175.19" x2="1515.1" y2="2175.19" stroke="#a8a8a8" stroke-width="2.2" stroke-linecap="butt"/>
<line x1="1497.9" y1="2224.6" x2="1497.9" y2="2238.2" stroke="#000" stroke-width="2.2" stroke-linecap="butt"/>
<rect x="1533" y="1928.69" width="11.2" height="294.81" fill="#ff0000" stroke="#000" stroke-width="1.7"/>
<line x1="1538.6" y1="1916.06" x2="1538.6" y2="1940.77" stroke="#000" stroke-width="1.7" stroke-linecap="butt"/>
<line x1="1535.4" y1="1916.06" x2="1541.8" y2="1916.06" stroke="#000" stroke-width="2.2" stroke-linecap="butt"/>
<line x1="1535.4" y1="1940.77" x2="1541.8" y2="1940.77" stroke="#000" stroke-width="2.2" stroke-linecap="butt"/>
<rect x="1547" y="1971.51" width="11.2" height="251.99" fill="#ff8080" stroke="#000" stroke-width="1.7"/>
<line x1="1552.6" y1="1946.26" x2="1552.6" y2="1996.22" stroke="#000" stroke-width="1.7" stroke-linecap="butt"/>
<line x1="1549.4" y1="1946.26" x2="1555.8" y2="1946.26" stroke="#000" stroke-width="2.2" stroke-linecap="butt"/>
<line x1="1549.4" y1="1996.22" x2="1555.8" y2="1996.22" stroke="#000" stroke-width="2.2" stroke-linecap="butt"/>
<rect x="1561" y="2136.21" width="11.2" height="87.29" fill="#ffffff" stroke="#a8a8a8" stroke-width="1.7"/>
<line x1="1566.6" y1="2124.68" x2="1566.6" y2="2147.19" stroke="#a8a8a8" stroke-width="1.7" stroke-linecap="butt"/>
<line x1="1563.4" y1="2124.68" x2="1569.8" y2="2124.68" stroke="#a8a8a8" stroke-width="2.2" stroke-linecap="butt"/>
<line x1="1563.4" y1="2147.19" x2="1569.8" y2="2147.19" stroke="#a8a8a8" stroke-width="2.2" stroke-linecap="butt"/>
<line x1="1552.6" y1="2224.6" x2="1552.6" y2="2238.2" stroke="#000" stroke-width="2.2" stroke-linecap="butt"/>
<rect x="1587.8" y="1975.35" width="11.2" height="248.15" fill="#ff0000" stroke="#000" stroke-width="1.7"/>
<line x1="1593.4" y1="1967.67" x2="1593.4" y2="1981.94" stroke="#000" stroke-width="1.7" stroke-linecap="butt"/>
<line x1="1590.2" y1="1967.67" x2="1596.6" y2="1967.67" stroke="#000" stroke-width="2.2" stroke-linecap="butt"/>
<line x1="1590.2" y1="1981.94" x2="1596.6" y2="1981.94" stroke="#000" stroke-width="2.2" stroke-linecap="butt"/>
<rect x="1601.8" y="2080.21" width="11.2" height="143.29" fill="#ff8080" stroke="#000" stroke-width="1.7"/>
<line x1="1607.4" y1="2073.08" x2="1607.4" y2="2087.35" stroke="#000" stroke-width="1.7" stroke-linecap="butt"/>
<line x1="1604.2" y1="2073.08" x2="1610.6" y2="2073.08" stroke="#000" stroke-width="2.2" stroke-linecap="butt"/>
<line x1="1604.2" y1="2087.35" x2="1610.6" y2="2087.35" stroke="#000" stroke-width="2.2" stroke-linecap="butt"/>
<rect x="1615.8" y="2157.07" width="11.2" height="66.43" fill="#ffffff" stroke="#a8a8a8" stroke-width="1.7"/>
<line x1="1621.4" y1="2146.09" x2="1621.4" y2="2168.05" stroke="#a8a8a8" stroke-width="1.7" stroke-linecap="butt"/>
<line x1="1618.2" y1="2146.09" x2="1624.6" y2="2146.09" stroke="#a8a8a8" stroke-width="2.2" stroke-linecap="butt"/>
<line x1="1618.2" y1="2168.05" x2="1624.6" y2="2168.05" stroke="#a8a8a8" stroke-width="2.2" stroke-linecap="butt"/>
<line x1="1607.4" y1="2224.6" x2="1607.4" y2="2238.2" stroke="#000" stroke-width="2.2" stroke-linecap="butt"/>
<rect x="1642.3" y="1990.18" width="11.2" height="233.32" fill="#ff0000" stroke="#000" stroke-width="1.7"/>
<line x1="1647.9" y1="1969.31" x2="1647.9" y2="2011.59" stroke="#000" stroke-width="1.7" stroke-linecap="butt"/>
<line x1="1644.7" y1="1969.31" x2="1651.1" y2="1969.31" stroke="#000" stroke-width="2.2" stroke-linecap="butt"/>
<line x1="1644.7" y1="2011.59" x2="1651.1" y2="2011.59" stroke="#000" stroke-width="2.2" stroke-linecap="butt"/>
<rect x="1656.3" y="2003.9" width="11.2" height="219.6" fill="#ff8080" stroke="#000" stroke-width="1.7"/>
<line x1="1661.9" y1="1973.16" x2="1661.9" y2="2033" stroke="#000" stroke-width="1.7" stroke-linecap="butt"/>
<line x1="1658.7" y1="1973.16" x2="1665.1" y2="1973.16" stroke="#000" stroke-width="2.2" stroke-linecap="butt"/>
<line x1="1658.7" y1="2033" x2="1665.1" y2="2033" stroke="#000" stroke-width="2.2" stroke-linecap="butt"/>
<rect x="1670.3" y="2118.09" width="11.2" height="105.41" fill="#ffffff" stroke="#a8a8a8" stroke-width="1.7"/>
<line x1="1675.9" y1="2098.33" x2="1675.9" y2="2136.21" stroke="#a8a8a8" stroke-width="1.7" stroke-linecap="butt"/>
<line x1="1672.7" y1="2098.33" x2="1679.1" y2="2098.33" stroke="#a8a8a8" stroke-width="2.2" stroke-linecap="butt"/>
<line x1="1672.7" y1="2136.21" x2="1679.1" y2="2136.21" stroke="#a8a8a8" stroke-width="2.2" stroke-linecap="butt"/>
<line x1="1661.9" y1="2224.6" x2="1661.9" y2="2238.2" stroke="#000" stroke-width="2.2" stroke-linecap="butt"/>
<rect x="1697.3" y="1952.84" width="11.2" height="270.66" fill="#ff0000" stroke="#000" stroke-width="1.7"/>
<line x1="1702.9" y1="1947.36" x2="1702.9" y2="1957.79" stroke="#000" stroke-width="1.7" stroke-linecap="butt"/>
<line x1="1699.7" y1="1947.36" x2="1706.1" y2="1947.36" stroke="#000" stroke-width="2.2" stroke-linecap="butt"/>
<line x1="1699.7" y1="1957.79" x2="1706.1" y2="1957.79" stroke="#000" stroke-width="2.2" stroke-linecap="butt"/>
<rect x="1711.3" y="1940.22" width="11.2" height="283.28" fill="#ff8080" stroke="#000" stroke-width="1.7"/>
<line x1="1716.9" y1="1903.98" x2="1716.9" y2="1974.26" stroke="#000" stroke-width="1.7" stroke-linecap="butt"/>
<line x1="1713.7" y1="1903.98" x2="1720.1" y2="1903.98" stroke="#000" stroke-width="2.2" stroke-linecap="butt"/>
<line x1="1713.7" y1="1974.26" x2="1720.1" y2="1974.26" stroke="#000" stroke-width="2.2" stroke-linecap="butt"/>
<rect x="1725.3" y="2121.94" width="11.2" height="101.56" fill="#ffffff" stroke="#a8a8a8" stroke-width="1.7"/>
<line x1="1730.9" y1="2108.21" x2="1730.9" y2="2135.66" stroke="#a8a8a8" stroke-width="1.7" stroke-linecap="butt"/>
<line x1="1727.7" y1="2108.21" x2="1734.1" y2="2108.21" stroke="#a8a8a8" stroke-width="2.2" stroke-linecap="butt"/>
<line x1="1727.7" y1="2135.66" x2="1734.1" y2="2135.66" stroke="#a8a8a8" stroke-width="2.2" stroke-linecap="butt"/>
<line x1="1716.9" y1="2224.6" x2="1716.9" y2="2238.2" stroke="#000" stroke-width="2.2" stroke-linecap="butt"/>
<text x="0" y="0" font-size="40" text-anchor="end" fill="#000" transform="translate(1127.4,2271) rotate(-45)">Blank</text>
<text x="0" y="0" font-size="40" text-anchor="end" fill="#000" transform="translate(1178.2,2272.3) rotate(-45)">EBC-186</text>
<text x="0" y="0" font-size="40" text-anchor="end" fill="#000" transform="translate(1232.7,2272.3) rotate(-45)">EBC-146</text>
<text x="0" y="0" font-size="40" text-anchor="end" fill="#000" transform="translate(1287.9,2272.3) rotate(-45)">EBC-147</text>
<text x="0" y="0" font-size="40" text-anchor="end" fill="#000" transform="translate(1342.9,2272.3) rotate(-45)">EBC-148</text>
<text x="0" y="0" font-size="40" text-anchor="end" fill="#000" transform="translate(1397.7,2272.3) rotate(-45)">EBC-<tspan dx="-3">4</tspan>7</text>
<text x="0" y="0" font-size="40" text-anchor="end" fill="#000" transform="translate(1452.7,2272.3) rotate(-45)">TT (EBC-<tspan dx="-3">4</tspan>6)</text>
<text x="0" y="0" font-size="40" text-anchor="end" fill="#000" transform="translate(1507.7,2272.3) rotate(-45)">EBC-344</text>
<text x="0" y="0" font-size="40" text-anchor="end" fill="#000" transform="translate(1562.4,2272.3) rotate(-45)">EBC-83</text>
<text x="0" y="0" font-size="40" text-anchor="end" fill="#000" transform="translate(1617.2,2272.3) rotate(-45)">EBC-170</text>
<text x="0" y="0" font-size="40" text-anchor="end" fill="#000" transform="translate(1671.7,2272.3) rotate(-45)">EBC-177</text>
<text x="0" y="0" font-size="40" text-anchor="end" fill="#000" transform="translate(1726.7,2272.3) rotate(-45)">EBC-59</text>
<text font-size="38.8" font-weight="bold" text-anchor="middle" transform="translate(1017.8,2002.5) rotate(-90)">Fold change</text>
<text x="1419.2" y="2464.8" font-size="40" text-anchor="middle" font-weight="bold" fill="#000">Compound</text>
<rect x="1536.2" y="1777.4" width="48.6" height="23" fill="#ff0000" stroke="#000" stroke-width="1.9"/>
<rect x="1536.2" y="1818" width="48.6" height="23.1" fill="#ff8080" stroke="#000" stroke-width="1.9"/>
<rect x="1536.2" y="1856.5" width="48.6" height="22.5" fill="#ffffff" stroke="#a8a8a8" stroke-width="1.9"/>
<text x="1614.7" y="1800.9" font-size="40" fill="#000">500 nM</text>
<text x="1614.7" y="1842.6" font-size="40" fill="#000">50 nM</text>
<text x="1614.7" y="1880.3" font-size="40" fill="#000">5 nM</text>
<line x1="222" y1="281.1" x2="260.8" y2="281.1" stroke="#343434" stroke-width="3.7" stroke-linecap="butt"/>
<line x1="260.8" y1="281.1" x2="282.3" y2="250.5" stroke="#343434" stroke-width="3.7" stroke-linecap="butt"/>
<line x1="282.3" y1="250.5" x2="319" y2="262.3" stroke="#343434" stroke-width="3.7" stroke-linecap="butt"/>
<line x1="319" y1="262.3" x2="319" y2="300.5" stroke="#343434" stroke-width="3.7" stroke-linecap="butt"/>
<line x1="319" y1="300.5" x2="283" y2="311.6" stroke="#343434" stroke-width="3.7" stroke-linecap="butt"/>
<line x1="283" y1="311.6" x2="260.8" y2="281.1" stroke="#343434" stroke-width="3.7" stroke-linecap="butt"/>
<line x1="319" y1="262.3" x2="349" y2="238.4" stroke="#343434" stroke-width="3.7" stroke-linecap="butt"/>
<line x1="349" y1="238.4" x2="336.6" y2="201.6" stroke="#343434" stroke-width="3.7" stroke-linecap="butt"/>
<line x1="336.6" y1="201.6" x2="363.2" y2="174.3" stroke="#343434" stroke-width="3.7" stroke-linecap="butt"/>
<line x1="363.2" y1="174.3" x2="400.1" y2="184.2" stroke="#343434" stroke-width="3.7" stroke-linecap="butt"/>
<line x1="400.1" y1="184.2" x2="411.8" y2="218" stroke="#343434" stroke-width="3.7" stroke-linecap="butt"/>
<line x1="411.8" y1="218" x2="386.2" y2="246.8" stroke="#343434" stroke-width="3.7" stroke-linecap="butt"/>
<line x1="386.2" y1="246.8" x2="349" y2="238.4" stroke="#343434" stroke-width="3.7" stroke-linecap="butt"/>
<line x1="400.1" y1="184.2" x2="437.6" y2="190.6" stroke="#343434" stroke-width="3.7" stroke-linecap="butt"/>
<line x1="411.8" y1="218" x2="437.6" y2="190.6" stroke="#343434" stroke-width="3.7" stroke-linecap="butt"/>
<line x1="437.6" y1="190.6" x2="465.5" y2="163.6" stroke="#343434" stroke-width="3.7" stroke-linecap="butt"/>
<line x1="437.6" y1="190.6" x2="474.7" y2="200.5" stroke="#343434" stroke-width="3.7" stroke-linecap="butt"/>
<line x1="386.2" y1="246.8" x2="402.6" y2="281.6" stroke="#343434" stroke-width="3.7" stroke-linecap="butt"/>
<line x1="402.6" y1="281.6" x2="384.4" y2="314.6" stroke="#343434" stroke-width="3.7" stroke-linecap="butt"/>
<line x1="384.4" y1="314.6" x2="348.6" y2="323.8" stroke="#343434" stroke-width="3.7" stroke-linecap="butt"/>
<line x1="348.6" y1="323.8" x2="319" y2="300.5" stroke="#343434" stroke-width="3.7" stroke-linecap="butt"/>
<line x1="384.4" y1="314.6" x2="404.7" y2="348.9" stroke="#343434" stroke-width="3.7" stroke-linecap="butt"/>
<line x1="404.7" y1="348.9" x2="429.6" y2="348.9" stroke="#343434" stroke-width="3.7" stroke-linecap="butt"/>
<circle cx="260.8" cy="281.1" r="1.85" fill="#343434"/>
<circle cx="282.3" cy="250.5" r="1.85" fill="#343434"/>
<circle cx="319" cy="262.3" r="1.85" fill="#343434"/>
<circle cx="319" cy="300.5" r="1.85" fill="#343434"/>
<circle cx="283" cy="311.6" r="1.85" fill="#343434"/>
<circle cx="349" cy="238.4" r="1.85" fill="#343434"/>
<circle cx="336.6" cy="201.6" r="1.85" fill="#343434"/>
<circle cx="363.2" cy="174.3" r="1.85" fill="#343434"/>
<circle cx="400.1" cy="184.2" r="1.85" fill="#343434"/>
<circle cx="411.8" cy="218" r="1.85" fill="#343434"/>
<circle cx="437.6" cy="190.6" r="1.85" fill="#343434"/>
<circle cx="386.2" cy="246.8" r="1.85" fill="#343434"/>
<circle cx="402.6" cy="281.6" r="1.85" fill="#343434"/>
<circle cx="384.4" cy="314.6" r="1.85" fill="#343434"/>
<circle cx="348.6" cy="323.8" r="1.85" fill="#343434"/>
<circle cx="404.7" cy="348.9" r="1.85" fill="#343434"/>
<line x1="273.53" y1="280.9" x2="286.43" y2="262.54" stroke="#343434" stroke-width="3.7" stroke-linecap="butt"/>
<line x1="389.94" y1="283.23" x2="379.02" y2="303.03" stroke="#343434" stroke-width="3.7" stroke-linecap="butt"/>
<line x1="277.72" y1="309.67" x2="271.41" y2="333.35" stroke="#343434" stroke-width="3.7" stroke-linecap="butt"/>
<line x1="288.54" y1="312.56" x2="282.23" y2="336.23" stroke="#343434" stroke-width="3.7" stroke-linecap="butt"/>
<text x="272.9" y="358.81" font-size="26" text-anchor="middle" fill="#343434">O</text>
<polygon points="318.4,300.51 313,323.75 325.4,323.65 319.6,300.49" fill="#343434"/>
<text x="289.1" y="347.3" font-size="26" fill="#343434">HO</text>
<polygon points="343.79,258.5 343,262.3 355,262.3 354.21,258.5" fill="#343434"/>
<polygon points="345.3,251.3 344.51,255.1 353.49,255.1 352.7,251.3" fill="#343434"/>
<polygon points="346.81,244.1 346.01,247.9 351.99,247.9 351.19,244.1" fill="#343434"/>
<text x="338.4" y="285.6" font-size="26" fill="#343434">OH</text>
<polygon points="313.95,244.24 312.74,240.3 302.46,246.5 305.38,249.41" fill="#343434"/>
<polygon points="317.16,254.68 315.95,250.74 310.2,254.21 313.12,257.12" fill="#343434"/>
<text x="300" y="238.91" font-size="26" text-anchor="middle" fill="#343434">H</text>
<polygon points="386.78,246.63 385.56,223.31 374.04,226.69 385.62,246.97" fill="#343434"/>
<text x="376.6" y="219.91" font-size="26" text-anchor="middle" fill="#343434">H</text>
<polygon points="429.25,230.98 432.28,233.03 436.72,222.97 433.16,222.11" fill="#343434"/>
<polygon points="423.86,227.34 426.89,229.39 430.39,221.45 426.83,220.6" fill="#343434"/>
<polygon points="418.47,223.7 421.51,225.75 424.07,219.93 420.51,219.08" fill="#343434"/>
<text x="448.6" y="238.11" font-size="26" text-anchor="middle" fill="#343434">H</text>
<polygon points="305,188.38 301.22,186.96 298.38,199.44 302.4,199.8" fill="#343434"/>
<polygon points="311.61,190.87 307.84,189.45 305.41,200.07 309.43,200.42" fill="#343434"/>
<polygon points="318.23,193.36 314.45,191.94 312.45,200.69 316.47,201.05" fill="#343434"/>
<polygon points="324.84,195.85 321.06,194.43 319.49,201.32 323.51,201.68" fill="#343434"/>
<polygon points="331.45,198.34 327.67,196.92 326.52,201.95 330.54,202.3" fill="#343434"/>
<text x="432.6" y="357.8" font-size="26" fill="#343434">OH</text>
<polygon points="363.79,174.18 364.67,150.56 352.53,153.04 362.61,174.42" fill="#343434"/>
<text x="324.6" y="147" font-size="26" fill="#343434">HO</text>
<polygon points="416.6,158.23 418.66,154.76 408.54,150.44 407.45,154.32" fill="#343434"/>
<polygon points="412.7,164.83 414.76,161.36 406.47,157.82 405.38,161.7" fill="#343434"/>
<polygon points="408.8,171.43 410.86,167.96 404.4,165.2 403.31,169.08" fill="#343434"/>
<polygon points="404.9,178.03 406.95,174.55 402.33,172.58 401.24,176.46" fill="#343434"/>
<text x="409.2" y="148" font-size="26" fill="#343434">OH</text>
<line x1="774.5" y1="282.3" x2="813.3" y2="282.3" stroke="#343434" stroke-width="3.7" stroke-linecap="butt"/>
<line x1="813.3" y1="282.3" x2="834.8" y2="251.7" stroke="#343434" stroke-width="3.7" stroke-linecap="butt"/>
<line x1="834.8" y1="251.7" x2="871.5" y2="263.5" stroke="#343434" stroke-width="3.7" stroke-linecap="butt"/>
<line x1="871.5" y1="263.5" x2="871.5" y2="301.7" stroke="#343434" stroke-width="3.7" stroke-linecap="butt"/>
<line x1="871.5" y1="301.7" x2="835.5" y2="312.8" stroke="#343434" stroke-width="3.7" stroke-linecap="butt"/>
<line x1="835.5" y1="312.8" x2="813.3" y2="282.3" stroke="#343434" stroke-width="3.7" stroke-linecap="butt"/>
<line x1="871.5" y1="263.5" x2="901.5" y2="239.6" stroke="#343434" stroke-width="3.7" stroke-linecap="butt"/>
<line x1="901.5" y1="239.6" x2="889.1" y2="202.8" stroke="#343434" stroke-width="3.7" stroke-linecap="butt"/>
<line x1="889.1" y1="202.8" x2="915.7" y2="175.5" stroke="#343434" stroke-width="3.7" stroke-linecap="butt"/>
<line x1="915.7" y1="175.5" x2="952.6" y2="185.4" stroke="#343434" stroke-width="3.7" stroke-linecap="butt"/>
<line x1="952.6" y1="185.4" x2="964.3" y2="219.2" stroke="#343434" stroke-width="3.7" stroke-linecap="butt"/>
<line x1="964.3" y1="219.2" x2="938.7" y2="248" stroke="#343434" stroke-width="3.7" stroke-linecap="butt"/>
<line x1="938.7" y1="248" x2="901.5" y2="239.6" stroke="#343434" stroke-width="3.7" stroke-linecap="butt"/>
<line x1="952.6" y1="185.4" x2="990.1" y2="191.8" stroke="#343434" stroke-width="3.7" stroke-linecap="butt"/>
<line x1="964.3" y1="219.2" x2="990.1" y2="191.8" stroke="#343434" stroke-width="3.7" stroke-linecap="butt"/>
<line x1="990.1" y1="191.8" x2="1018" y2="164.8" stroke="#343434" stroke-width="3.7" stroke-linecap="butt"/>
<line x1="990.1" y1="191.8" x2="1027.2" y2="201.7" stroke="#343434" stroke-width="3.7" stroke-linecap="butt"/>
<line x1="938.7" y1="248" x2="955.1" y2="282.8" stroke="#343434" stroke-width="3.7" stroke-linecap="butt"/>
<line x1="955.1" y1="282.8" x2="936.9" y2="315.8" stroke="#343434" stroke-width="3.7" stroke-linecap="butt"/>
<line x1="936.9" y1="315.8" x2="901.1" y2="325" stroke="#343434" stroke-width="3.7" stroke-linecap="butt"/>
<line x1="901.1" y1="325" x2="871.5" y2="301.7" stroke="#343434" stroke-width="3.7" stroke-linecap="butt"/>
<line x1="936.9" y1="315.8" x2="957.2" y2="350.1" stroke="#343434" stroke-width="3.7" stroke-linecap="butt"/>
<line x1="957.2" y1="350.1" x2="982.1" y2="350.1" stroke="#343434" stroke-width="3.7" stroke-linecap="butt"/>
<circle cx="813.3" cy="282.3" r="1.85" fill="#343434"/>
<circle cx="834.8" cy="251.7" r="1.85" fill="#343434"/>
<circle cx="871.5" cy="263.5" r="1.85" fill="#343434"/>
<circle cx="871.5" cy="301.7" r="1.85" fill="#343434"/>
<circle cx="835.5" cy="312.8" r="1.85" fill="#343434"/>
<circle cx="901.5" cy="239.6" r="1.85" fill="#343434"/>
<circle cx="889.1" cy="202.8" r="1.85" fill="#343434"/>
<circle cx="915.7" cy="175.5" r="1.85" fill="#343434"/>
<circle cx="952.6" cy="185.4" r="1.85" fill="#343434"/>
<circle cx="964.3" cy="219.2" r="1.85" fill="#343434"/>
<circle cx="990.1" cy="191.8" r="1.85" fill="#343434"/>
<circle cx="938.7" cy="248" r="1.85" fill="#343434"/>
<circle cx="955.1" cy="282.8" r="1.85" fill="#343434"/>
<circle cx="936.9" cy="315.8" r="1.85" fill="#343434"/>
<circle cx="901.1" cy="325" r="1.85" fill="#343434"/>
<circle cx="957.2" cy="350.1" r="1.85" fill="#343434"/>
<line x1="826.03" y1="282.1" x2="838.93" y2="263.74" stroke="#343434" stroke-width="3.7" stroke-linecap="butt"/>
<line x1="942.44" y1="284.43" x2="931.52" y2="304.23" stroke="#343434" stroke-width="3.7" stroke-linecap="butt"/>
<line x1="830.22" y1="310.87" x2="823.91" y2="334.55" stroke="#343434" stroke-width="3.7" stroke-linecap="butt"/>
<line x1="841.04" y1="313.76" x2="834.73" y2="337.43" stroke="#343434" stroke-width="3.7" stroke-linecap="butt"/>
<text x="825.4" y="360.01" font-size="26" text-anchor="middle" fill="#343434">O</text>
<polygon points="870.9,301.71 865.5,324.95 877.9,324.85 872.1,301.69" fill="#343434"/>
<text x="841.6" y="348.5" font-size="26" fill="#343434">HO</text>
<polygon points="896.29,259.7 895.5,263.5 907.5,263.5 906.71,259.7" fill="#343434"/>
<polygon points="897.8,252.5 897.01,256.3 905.99,256.3 905.2,252.5" fill="#343434"/>
<polygon points="899.31,245.3 898.51,249.1 904.49,249.1 903.69,245.3" fill="#343434"/>
<text x="890.9" y="286.8" font-size="26" fill="#343434">OH</text>
<polygon points="866.45,245.44 865.24,241.5 854.96,247.7 857.88,250.61" fill="#343434"/>
<polygon points="869.66,255.88 868.45,251.94 862.7,255.41 865.62,258.32" fill="#343434"/>
<text x="852.5" y="240.11" font-size="26" text-anchor="middle" fill="#343434">H</text>
<polygon points="939.28,247.83 938.06,224.51 926.54,227.89 938.12,248.17" fill="#343434"/>
<text x="929.1" y="221.11" font-size="26" text-anchor="middle" fill="#343434">H</text>
<polygon points="981.75,232.18 984.78,234.23 989.22,224.17 985.66,223.31" fill="#343434"/>
<polygon points="976.36,228.54 979.39,230.59 982.89,222.65 979.33,221.8" fill="#343434"/>
<polygon points="970.97,224.9 974.01,226.95 976.57,221.13 973.01,220.28" fill="#343434"/>
<text x="1001.1" y="239.31" font-size="26" text-anchor="middle" fill="#343434">H</text>
<polygon points="857.5,189.58 853.72,188.16 850.88,200.64 854.9,201" fill="#343434"/>
<polygon points="864.11,192.07 860.34,190.65 857.91,201.27 861.93,201.62" fill="#343434"/>
<polygon points="870.73,194.56 866.95,193.14 864.95,201.89 868.97,202.25" fill="#343434"/>
<polygon points="877.34,197.05 873.56,195.63 871.99,202.52 876.01,202.88" fill="#343434"/>
<polygon points="883.95,199.54 880.17,198.12 879.02,203.15 883.04,203.5" fill="#343434"/>
<text x="985.1" y="359" font-size="26" fill="#343434">OH</text>
<polygon points="916.28,175.36 916.24,150.59 904.16,153.41 915.12,175.64" fill="#343434"/>
<text x="905.5" y="148.01" font-size="26" text-anchor="middle" fill="#343434">O</text>
<line x1="891.8" y1="134" x2="868.4" y2="127.4" stroke="#343434" stroke-width="3.7" stroke-linecap="butt"/>
<line x1="873.18" y1="126.7" x2="867.75" y2="105.38" stroke="#343434" stroke-width="3.7" stroke-linecap="butt"/>
<line x1="863.87" y1="129.07" x2="858.45" y2="107.75" stroke="#343434" stroke-width="3.7" stroke-linecap="butt"/>
<text x="859.4" y="101.31" font-size="26" text-anchor="middle" fill="#343434">O</text>
<polyline points="868.4,127.4 842.1,154.9 805.7,145.1 778.2,172.8 740.6,162.8 730.7,125.9 758.3,97.8 794.7,108.2 821.7,81.1 811.9,45 838.9,16.7 876.3,27 886.1,64.4 922.5,74.2" fill="none" stroke="#343434" stroke-width="3.7" stroke-linejoin="miter"/>
<polygon points="972.18,158.87 974.47,155.56 964.73,150.44 963.31,154.22" fill="#343434"/>
<polygon points="967.82,165.16 970.11,161.85 962.03,157.61 960.6,161.38" fill="#343434"/>
<polygon points="963.46,171.46 965.75,168.15 959.32,164.77 957.9,168.54" fill="#343434"/>
<polygon points="959.1,177.76 961.39,174.44 956.62,171.94 955.2,175.71" fill="#343434"/>
<text x="971.5" y="148.51" font-size="26" text-anchor="middle" fill="#343434">O</text>
<line x1="985.2" y1="135.2" x2="1008.5" y2="128.3" stroke="#343434" stroke-width="3.7" stroke-linecap="butt"/>
<line x1="1012.98" y1="130.1" x2="1019.04" y2="108.95" stroke="#343434" stroke-width="3.7" stroke-linecap="butt"/>
<line x1="1003.75" y1="127.46" x2="1009.81" y2="106.31" stroke="#343434" stroke-width="3.7" stroke-linecap="butt"/>
<text x="1018.9" y="101.31" font-size="26" text-anchor="middle" fill="#343434">O</text>
<line x1="1008.5" y1="128.3" x2="1035.6" y2="156.1" stroke="#343434" stroke-width="3.7" stroke-linecap="butt"/>
<circle cx="1008.5" cy="128.3" r="1.85" fill="#343434"/>
<circle cx="868.4" cy="127.4" r="1.85" fill="#343434"/>
<line x1="1269" y1="281.9" x2="1307.8" y2="281.9" stroke="#343434" stroke-width="3.7" stroke-linecap="butt"/>
<line x1="1307.8" y1="281.9" x2="1329.3" y2="251.3" stroke="#343434" stroke-width="3.7" stroke-linecap="butt"/>
<line x1="1329.3" y1="251.3" x2="1366" y2="263.1" stroke="#343434" stroke-width="3.7" stroke-linecap="butt"/>
<line x1="1366" y1="263.1" x2="1366" y2="301.3" stroke="#343434" stroke-width="3.7" stroke-linecap="butt"/>
<line x1="1366" y1="301.3" x2="1330" y2="312.4" stroke="#343434" stroke-width="3.7" stroke-linecap="butt"/>
<line x1="1330" y1="312.4" x2="1307.8" y2="281.9" stroke="#343434" stroke-width="3.7" stroke-linecap="butt"/>
<line x1="1366" y1="263.1" x2="1396" y2="239.2" stroke="#343434" stroke-width="3.7" stroke-linecap="butt"/>
<line x1="1396" y1="239.2" x2="1383.6" y2="202.4" stroke="#343434" stroke-width="3.7" stroke-linecap="butt"/>
<line x1="1383.6" y1="202.4" x2="1410.2" y2="175.1" stroke="#343434" stroke-width="3.7" stroke-linecap="butt"/>
<line x1="1410.2" y1="175.1" x2="1447.3" y2="182" stroke="#343434" stroke-width="3.7" stroke-linecap="butt"/>
<line x1="1447.3" y1="182" x2="1458.2" y2="217.6" stroke="#343434" stroke-width="3.7" stroke-linecap="butt"/>
<line x1="1458.2" y1="217.6" x2="1433.2" y2="247.6" stroke="#343434" stroke-width="3.7" stroke-linecap="butt"/>
<line x1="1433.2" y1="247.6" x2="1396" y2="239.2" stroke="#343434" stroke-width="3.7" stroke-linecap="butt"/>
<line x1="1447.3" y1="182" x2="1485.6" y2="190.6" stroke="#343434" stroke-width="3.7" stroke-linecap="butt"/>
<line x1="1458.2" y1="217.6" x2="1485.6" y2="190.6" stroke="#343434" stroke-width="3.7" stroke-linecap="butt"/>
<line x1="1485.6" y1="190.6" x2="1512.5" y2="164.4" stroke="#343434" stroke-width="3.7" stroke-linecap="butt"/>
<line x1="1485.6" y1="190.6" x2="1521.7" y2="201.3" stroke="#343434" stroke-width="3.7" stroke-linecap="butt"/>
<line x1="1433.2" y1="247.6" x2="1450.1" y2="281.6" stroke="#343434" stroke-width="3.7" stroke-linecap="butt"/>
<line x1="1450.1" y1="281.6" x2="1433.8" y2="316.4" stroke="#343434" stroke-width="3.7" stroke-linecap="butt"/>
<line x1="1433.8" y1="316.4" x2="1395.6" y2="324.6" stroke="#343434" stroke-width="3.7" stroke-linecap="butt"/>
<line x1="1395.6" y1="324.6" x2="1366" y2="301.3" stroke="#343434" stroke-width="3.7" stroke-linecap="butt"/>
<line x1="1433.8" y1="316.4" x2="1451.7" y2="349.7" stroke="#343434" stroke-width="3.7" stroke-linecap="butt"/>
<line x1="1451.7" y1="349.7" x2="1476.6" y2="349.7" stroke="#343434" stroke-width="3.7" stroke-linecap="butt"/>
<circle cx="1307.8" cy="281.9" r="1.85" fill="#343434"/>
<circle cx="1329.3" cy="251.3" r="1.85" fill="#343434"/>
<circle cx="1366" cy="263.1" r="1.85" fill="#343434"/>
<circle cx="1366" cy="301.3" r="1.85" fill="#343434"/>
<circle cx="1330" cy="312.4" r="1.85" fill="#343434"/>
<circle cx="1396" cy="239.2" r="1.85" fill="#343434"/>
<circle cx="1383.6" cy="202.4" r="1.85" fill="#343434"/>
<circle cx="1410.2" cy="175.1" r="1.85" fill="#343434"/>
<circle cx="1447.3" cy="182" r="1.85" fill="#343434"/>
<circle cx="1458.2" cy="217.6" r="1.85" fill="#343434"/>
<circle cx="1485.6" cy="190.6" r="1.85" fill="#343434"/>
<circle cx="1433.2" cy="247.6" r="1.85" fill="#343434"/>
<circle cx="1450.1" cy="281.6" r="1.85" fill="#343434"/>
<circle cx="1433.8" cy="316.4" r="1.85" fill="#343434"/>
<circle cx="1395.6" cy="324.6" r="1.85" fill="#343434"/>
<circle cx="1451.7" cy="349.7" r="1.85" fill="#343434"/>
<line x1="1320.53" y1="281.7" x2="1333.43" y2="263.34" stroke="#343434" stroke-width="3.7" stroke-linecap="butt"/>
<line x1="1324.72" y1="310.47" x2="1318.41" y2="334.15" stroke="#343434" stroke-width="3.7" stroke-linecap="butt"/>
<line x1="1335.54" y1="313.36" x2="1329.23" y2="337.03" stroke="#343434" stroke-width="3.7" stroke-linecap="butt"/>
<text x="1319.9" y="359.61" font-size="26" text-anchor="middle" fill="#343434">O</text>
<polygon points="1365.4,301.31 1360,324.55 1372.4,324.45 1366.6,301.29" fill="#343434"/>
<text x="1336.1" y="348.1" font-size="26" fill="#343434">HO</text>
<polygon points="1390.79,259.3 1390,263.1 1402,263.1 1401.21,259.3" fill="#343434"/>
<polygon points="1392.3,252.1 1391.51,255.9 1400.49,255.9 1399.7,252.1" fill="#343434"/>
<polygon points="1393.81,244.9 1393.01,248.7 1398.99,248.7 1398.19,244.9" fill="#343434"/>
<text x="1385.4" y="286.4" font-size="26" fill="#343434">OH</text>
<polygon points="1360.95,245.04 1359.74,241.1 1349.46,247.3 1352.38,250.21" fill="#343434"/>
<polygon points="1364.16,255.48 1362.95,251.54 1357.2,255.01 1360.12,257.92" fill="#343434"/>
<text x="1347" y="239.71" font-size="26" text-anchor="middle" fill="#343434">H</text>
<polygon points="1433.78,247.43 1432.56,224.11 1421.04,227.49 1432.62,247.77" fill="#343434"/>
<text x="1423.6" y="220.71" font-size="26" text-anchor="middle" fill="#343434">H</text>
<polygon points="1476.14,231.63 1479.12,233.76 1483.88,223.84 1480.37,222.85" fill="#343434"/>
<polygon points="1470.86,227.86 1473.83,229.98 1477.63,222.07 1474.12,221.08" fill="#343434"/>
<polygon points="1465.57,224.08 1468.55,226.2 1471.38,220.31 1467.87,219.31" fill="#343434"/>
<text x="1495.6" y="238.91" font-size="26" text-anchor="middle" fill="#343434">H</text>
<polygon points="1352,189.18 1348.22,187.76 1345.38,200.24 1349.4,200.6" fill="#343434"/>
<polygon points="1358.61,191.67 1354.84,190.25 1352.41,200.87 1356.43,201.22" fill="#343434"/>
<polygon points="1365.23,194.16 1361.45,192.74 1359.45,201.49 1363.47,201.85" fill="#343434"/>
<polygon points="1371.84,196.65 1368.06,195.23 1366.49,202.12 1370.51,202.48" fill="#343434"/>
<polygon points="1378.45,199.14 1374.67,197.72 1373.52,202.75 1377.54,203.1" fill="#343434"/>
<text x="1479.6" y="358.6" font-size="26" fill="#343434">OH</text>
<polygon points="1410.79,174.98 1411.43,149.37 1399.17,151.83 1409.61,175.22" fill="#343434"/>
<text x="1401.6" y="145.2" font-size="36" text-anchor="middle" font-weight="bold" fill="#e8191f">R</text>
<polygon points="1465.33,156.38 1467.54,153.01 1457.66,148.19 1456.37,152.01" fill="#343434"/>
<polygon points="1461.12,162.78 1463.34,159.41 1455.21,155.45 1453.92,159.27" fill="#343434"/>
<polygon points="1456.91,169.19 1459.13,165.82 1452.76,162.71 1451.47,166.53" fill="#343434"/>
<polygon points="1452.7,175.59 1454.92,172.22 1450.31,169.97 1449.02,173.8" fill="#343434"/>
<text x="1467.5" y="146.61" font-size="26" text-anchor="middle" fill="#343434">O</text>
<line x1="1463.7" y1="123.1" x2="1458.1" y2="99.8" stroke="#343434" stroke-width="3.7" stroke-linecap="butt"/>
<line x1="1459.95" y1="94.7" x2="1435.76" y2="88.38" stroke="#343434" stroke-width="3.7" stroke-linecap="butt"/>
<line x1="1457.22" y1="105.15" x2="1433.03" y2="98.83" stroke="#343434" stroke-width="3.7" stroke-linecap="butt"/>
<text x="1420.2" y="99.21" font-size="26" text-anchor="middle" fill="#343434">O</text>
<polyline points="1458.1,99.8 1484.8,72.7 1474.4,36.1 1502,8.6" fill="none" stroke="#343434" stroke-width="3.7" stroke-linejoin="miter"/>
<polygon points="1515.74,87.82 1519.42,89.49 1522.98,77.51 1518.99,76.9" fill="#343434"/>
<polygon points="1509.31,84.9 1512.99,86.57 1515.99,76.44 1512,75.84" fill="#343434"/>
<polygon points="1502.87,81.99 1506.55,83.65 1509.01,75.38 1505.01,74.77" fill="#343434"/>
<polygon points="1496.44,79.07 1500.12,80.73 1502.02,74.32 1498.03,73.71" fill="#343434"/>
<polygon points="1490,76.15 1493.68,77.82 1495.03,73.26 1491.04,72.65" fill="#343434"/>
<polygon points="1460.51,305.28 1462.27,308.92 1471.33,302.68 1468.55,299.73" fill="#343434"/>
<polygon points="1457.15,298.37 1458.91,302.01 1466.05,297.08 1463.28,294.14" fill="#343434"/>
<polygon points="1453.79,291.45 1455.55,295.09 1460.78,291.49 1458,288.54" fill="#343434"/>
<polygon points="1454.6,321.68 1458.6,322.5 1458.6,310.3 1454.6,311.12" fill="#343434"/>
<polygon points="1447.4,320.2 1451.4,321.02 1451.4,311.78 1447.4,312.6" fill="#343434"/>
<polygon points="1440.2,318.72 1444.2,319.54 1444.2,313.26 1440.2,314.08" fill="#343434"/>
<text x="1471.8" y="325.41" font-size="26" text-anchor="middle" fill="#343434">O</text>
<polygon points="1395,324.61 1389.8,348.58 1402,348.42 1396.2,324.59" fill="#343434"/>
<text x="1385.8" y="372.6" font-size="26" fill="#343434">OH</text>
<line x1="215" y1="710.2" x2="215" y2="733.3" stroke="#343434" stroke-width="4" stroke-linecap="butt"/>
<text x="205.8" y="705" font-size="26" fill="#343434">OH</text>
<line x1="369.2" y1="708.1" x2="369.2" y2="730.6" stroke="#343434" stroke-width="4" stroke-linecap="butt"/>
<text x="369.2" y="702.91" font-size="26" text-anchor="middle" fill="#343434">O</text>
<text x="304" y="702.91" font-size="26" text-anchor="middle" fill="#343434">O</text>
<line x1="335.6" y1="676" x2="357.7" y2="686.8" stroke="#343434" stroke-width="4" stroke-linecap="butt"/>
<line x1="335.35" y1="670.54" x2="313.36" y2="682.41" stroke="#343434" stroke-width="4" stroke-linecap="butt"/>
<line x1="340.49" y1="680.04" x2="318.49" y2="691.92" stroke="#343434" stroke-width="4" stroke-linecap="butt"/>
<polyline points="336.6,676 336.6,638.4" fill="none" stroke="#343434" stroke-width="4" stroke-linejoin="miter"/>
<line x1="511.2" y1="708.1" x2="511.2" y2="730.6" stroke="#343434" stroke-width="4" stroke-linecap="butt"/>
<text x="511.2" y="702.91" font-size="26" text-anchor="middle" fill="#343434">O</text>
<text x="446" y="702.91" font-size="26" text-anchor="middle" fill="#343434">O</text>
<line x1="477.6" y1="676" x2="499.7" y2="686.8" stroke="#343434" stroke-width="4" stroke-linecap="butt"/>
<line x1="477.35" y1="670.54" x2="455.36" y2="682.41" stroke="#343434" stroke-width="4" stroke-linecap="butt"/>
<line x1="482.49" y1="680.04" x2="460.49" y2="691.92" stroke="#343434" stroke-width="4" stroke-linecap="butt"/>
<polyline points="478.6,676 478.6,638.4 446,619.6" fill="none" stroke="#343434" stroke-width="4" stroke-linejoin="miter"/>
<line x1="649.5" y1="708.1" x2="649.5" y2="730.6" stroke="#343434" stroke-width="4" stroke-linecap="butt"/>
<text x="649.5" y="702.91" font-size="26" text-anchor="middle" fill="#343434">O</text>
<text x="584.3" y="702.91" font-size="26" text-anchor="middle" fill="#343434">O</text>
<line x1="615.9" y1="676" x2="638" y2="686.8" stroke="#343434" stroke-width="4" stroke-linecap="butt"/>
<line x1="615.65" y1="670.54" x2="593.66" y2="682.41" stroke="#343434" stroke-width="4" stroke-linecap="butt"/>
<line x1="620.79" y1="680.04" x2="598.79" y2="691.92" stroke="#343434" stroke-width="4" stroke-linecap="butt"/>
<polyline points="616.9,676 616.9,638.4 584.3,619.6 584.3,582" fill="none" stroke="#343434" stroke-width="4" stroke-linejoin="miter"/>
<line x1="788.3" y1="708.1" x2="788.3" y2="730.6" stroke="#343434" stroke-width="4" stroke-linecap="butt"/>
<text x="788.3" y="702.91" font-size="26" text-anchor="middle" fill="#343434">O</text>
<text x="723.1" y="702.91" font-size="26" text-anchor="middle" fill="#343434">O</text>
<line x1="754.7" y1="676" x2="776.8" y2="686.8" stroke="#343434" stroke-width="4" stroke-linecap="butt"/>
<line x1="754.45" y1="670.54" x2="732.46" y2="682.41" stroke="#343434" stroke-width="4" stroke-linecap="butt"/>
<line x1="759.59" y1="680.04" x2="737.59" y2="691.92" stroke="#343434" stroke-width="4" stroke-linecap="butt"/>
<polyline points="755.7,676 755.7,638.4 723.1,619.6" fill="none" stroke="#343434" stroke-width="4" stroke-linejoin="miter"/>
<polyline points="755.7,638.4 788.3,619.6 788.3,582" fill="none" stroke="#343434" stroke-width="4" stroke-linejoin="miter"/>
<line x1="925.5" y1="708.1" x2="925.5" y2="730.6" stroke="#343434" stroke-width="4" stroke-linecap="butt"/>
<text x="925.5" y="702.91" font-size="26" text-anchor="middle" fill="#343434">O</text>
<text x="860.3" y="702.91" font-size="26" text-anchor="middle" fill="#343434">O</text>
<line x1="891.9" y1="676" x2="914" y2="686.8" stroke="#343434" stroke-width="4" stroke-linecap="butt"/>
<line x1="891.65" y1="670.54" x2="869.66" y2="682.41" stroke="#343434" stroke-width="4" stroke-linecap="butt"/>
<line x1="896.79" y1="680.04" x2="874.79" y2="691.92" stroke="#343434" stroke-width="4" stroke-linecap="butt"/>
<polyline points="892.9,676 892.9,638.4 860.3,619.6" fill="none" stroke="#343434" stroke-width="4" stroke-linejoin="miter"/>
<polyline points="892.9,638.4 925.5,619.6 925.5,582" fill="none" stroke="#343434" stroke-width="4" stroke-linejoin="miter"/>
<line x1="893.55" y1="626.71" x2="915.06" y2="614.31" stroke="#343434" stroke-width="4" stroke-linecap="butt"/>
<line x1="1071.5" y1="708.1" x2="1071.5" y2="730.6" stroke="#343434" stroke-width="4" stroke-linecap="butt"/>
<text x="1071.5" y="702.91" font-size="26" text-anchor="middle" fill="#343434">O</text>
<text x="1006.3" y="702.91" font-size="26" text-anchor="middle" fill="#343434">O</text>
<line x1="1037.9" y1="676" x2="1060" y2="686.8" stroke="#343434" stroke-width="4" stroke-linecap="butt"/>
<line x1="1037.65" y1="670.54" x2="1015.66" y2="682.41" stroke="#343434" stroke-width="4" stroke-linecap="butt"/>
<line x1="1042.79" y1="680.04" x2="1020.79" y2="691.92" stroke="#343434" stroke-width="4" stroke-linecap="butt"/>
<polyline points="1038.9,676 1038.9,638.4 1006.3,619.6 1006.3,582" fill="none" stroke="#343434" stroke-width="4" stroke-linejoin="miter"/>
<polyline points="1006.3,619.6 973.7,638.4" fill="none" stroke="#343434" stroke-width="4" stroke-linejoin="miter"/>
<line x1="1028.46" y1="643.69" x2="1006.95" y2="631.29" stroke="#343434" stroke-width="4" stroke-linecap="butt"/>
<line x1="1217.2" y1="708.1" x2="1217.2" y2="730.6" stroke="#343434" stroke-width="4" stroke-linecap="butt"/>
<text x="1217.2" y="702.91" font-size="26" text-anchor="middle" fill="#343434">O</text>
<text x="1152" y="702.91" font-size="26" text-anchor="middle" fill="#343434">O</text>
<line x1="1183.6" y1="676" x2="1205.7" y2="686.8" stroke="#343434" stroke-width="4" stroke-linecap="butt"/>
<line x1="1183.35" y1="670.54" x2="1161.36" y2="682.41" stroke="#343434" stroke-width="4" stroke-linecap="butt"/>
<line x1="1188.49" y1="680.04" x2="1166.49" y2="691.92" stroke="#343434" stroke-width="4" stroke-linecap="butt"/>
<polyline points="1184.6,676 1184.6,638.4 1152,619.6 1152,582 1119.4,563.2 1119.4,525.6" fill="none" stroke="#343434" stroke-width="4" stroke-linejoin="miter"/>
<line x1="1365.5" y1="708.1" x2="1365.5" y2="730.6" stroke="#343434" stroke-width="4" stroke-linecap="butt"/>
<text x="1365.5" y="702.91" font-size="26" text-anchor="middle" fill="#343434">O</text>
<text x="1300.3" y="702.91" font-size="26" text-anchor="middle" fill="#343434">O</text>
<line x1="1331.9" y1="676" x2="1354" y2="686.8" stroke="#343434" stroke-width="4" stroke-linecap="butt"/>
<line x1="1331.65" y1="670.54" x2="1309.66" y2="682.41" stroke="#343434" stroke-width="4" stroke-linecap="butt"/>
<line x1="1336.79" y1="680.04" x2="1314.79" y2="691.92" stroke="#343434" stroke-width="4" stroke-linecap="butt"/>
<polyline points="1332.9,676 1332.9,638.4 1300.3,619.6 1300.3,582 1267.7,563.2 1267.7,525.6" fill="none" stroke="#343434" stroke-width="4" stroke-linejoin="miter"/>
<line x1="1322.46" y1="643.69" x2="1300.95" y2="631.29" stroke="#343434" stroke-width="4" stroke-linecap="butt"/>
<line x1="1289.86" y1="587.29" x2="1268.35" y2="574.89" stroke="#343434" stroke-width="4" stroke-linecap="butt"/>
<line x1="1514.8" y1="708.1" x2="1514.8" y2="730.6" stroke="#343434" stroke-width="4" stroke-linecap="butt"/>
<text x="1514.8" y="702.91" font-size="26" text-anchor="middle" fill="#343434">O</text>
<text x="1449.6" y="702.91" font-size="26" text-anchor="middle" fill="#343434">O</text>
<line x1="1481.2" y1="676" x2="1503.3" y2="686.8" stroke="#343434" stroke-width="4" stroke-linecap="butt"/>
<line x1="1480.95" y1="670.54" x2="1458.96" y2="682.41" stroke="#343434" stroke-width="4" stroke-linecap="butt"/>
<line x1="1486.09" y1="680.04" x2="1464.09" y2="691.92" stroke="#343434" stroke-width="4" stroke-linecap="butt"/>
<polyline points="1482.2,676 1482.2,638.4 1449.6,619.6 1449.6,582 1417,563.2 1417,525.6 1449.6,506.8 1482.2,525.6 1482.2,563.2 1514.8,582" fill="none" stroke="#343434" stroke-width="4" stroke-linejoin="miter"/>
<line x1="1471.76" y1="643.69" x2="1450.25" y2="631.29" stroke="#343434" stroke-width="4" stroke-linecap="butt"/>
<line x1="1439.16" y1="587.29" x2="1417.65" y2="574.89" stroke="#343434" stroke-width="4" stroke-linecap="butt"/>
<line x1="1669.7" y1="708.1" x2="1669.7" y2="730.6" stroke="#343434" stroke-width="4" stroke-linecap="butt"/>
<text x="1669.7" y="702.91" font-size="26" text-anchor="middle" fill="#343434">O</text>
<text x="1604.5" y="702.91" font-size="26" text-anchor="middle" fill="#343434">O</text>
<line x1="1636.1" y1="676" x2="1658.2" y2="686.8" stroke="#343434" stroke-width="4" stroke-linecap="butt"/>
<line x1="1635.85" y1="670.54" x2="1613.86" y2="682.41" stroke="#343434" stroke-width="4" stroke-linecap="butt"/>
<line x1="1640.99" y1="680.04" x2="1618.99" y2="691.92" stroke="#343434" stroke-width="4" stroke-linecap="butt"/>
<polyline points="1637.1,676 1637.1,638.4 1604.5,619.6 1604.5,582 1571.9,563.2 1571.9,525.6 1539.3,506.8 1539.3,469.2 1571.9,450.4 1604.5,469.2 1604.5,506.8 1637.1,525.6" fill="none" stroke="#343434" stroke-width="4" stroke-linejoin="miter"/>
<line x1="1626.66" y1="643.69" x2="1605.15" y2="631.29" stroke="#343434" stroke-width="4" stroke-linecap="butt"/>
<line x1="1594.06" y1="587.29" x2="1572.55" y2="574.89" stroke="#343434" stroke-width="4" stroke-linecap="butt"/>
<line x1="1561.46" y1="530.89" x2="1539.95" y2="518.49" stroke="#343434" stroke-width="4" stroke-linecap="butt"/>
<text x="0" y="0" font-size="40" text-anchor="end" fill="#3c3c3c" transform="translate(236.6,765.7) rotate(-45)">EBC-186</text>
<text x="0" y="0" font-size="40" text-anchor="end" fill="#3c3c3c" transform="translate(390.8,765.7) rotate(-45)">EBC-146</text>
<text x="0" y="0" font-size="40" text-anchor="end" fill="#3c3c3c" transform="translate(532.8,765.7) rotate(-45)">EBC-147</text>
<text x="0" y="0" font-size="40" text-anchor="end" fill="#3c3c3c" transform="translate(671.1,765.7) rotate(-45)">EBC-148</text>
<text x="0" y="0" font-size="40" text-anchor="end" fill="#3c3c3c" transform="translate(809.9,765.7) rotate(-45)">EBC-47</text>
<g transform="translate(898.2,784.1) rotate(-45)" fill="#3c3c3c" font-size="40" text-anchor="middle"><text x="0" y="0">TT</text><text x="0" y="44.7">(EBC-46)</text></g>
<text x="0" y="0" font-size="40" text-anchor="end" fill="#3c3c3c" transform="translate(1093.1,765.7) rotate(-45)">EBC-344</text>
<text x="0" y="0" font-size="40" text-anchor="end" fill="#3c3c3c" transform="translate(1238.8,765.7) rotate(-45)">EBC-83</text>
<text x="0" y="0" font-size="40" text-anchor="end" fill="#3c3c3c" transform="translate(1387.1,765.7) rotate(-45)">EBC-170</text>
<text x="0" y="0" font-size="40" text-anchor="end" fill="#3c3c3c" transform="translate(1536.4,765.7) rotate(-45)">EBC-177</text>
<text x="0" y="0" font-size="40" text-anchor="end" fill="#3c3c3c" transform="translate(1691.3,765.7) rotate(-45)">EBC-59</text>
</svg>
</body></html>
